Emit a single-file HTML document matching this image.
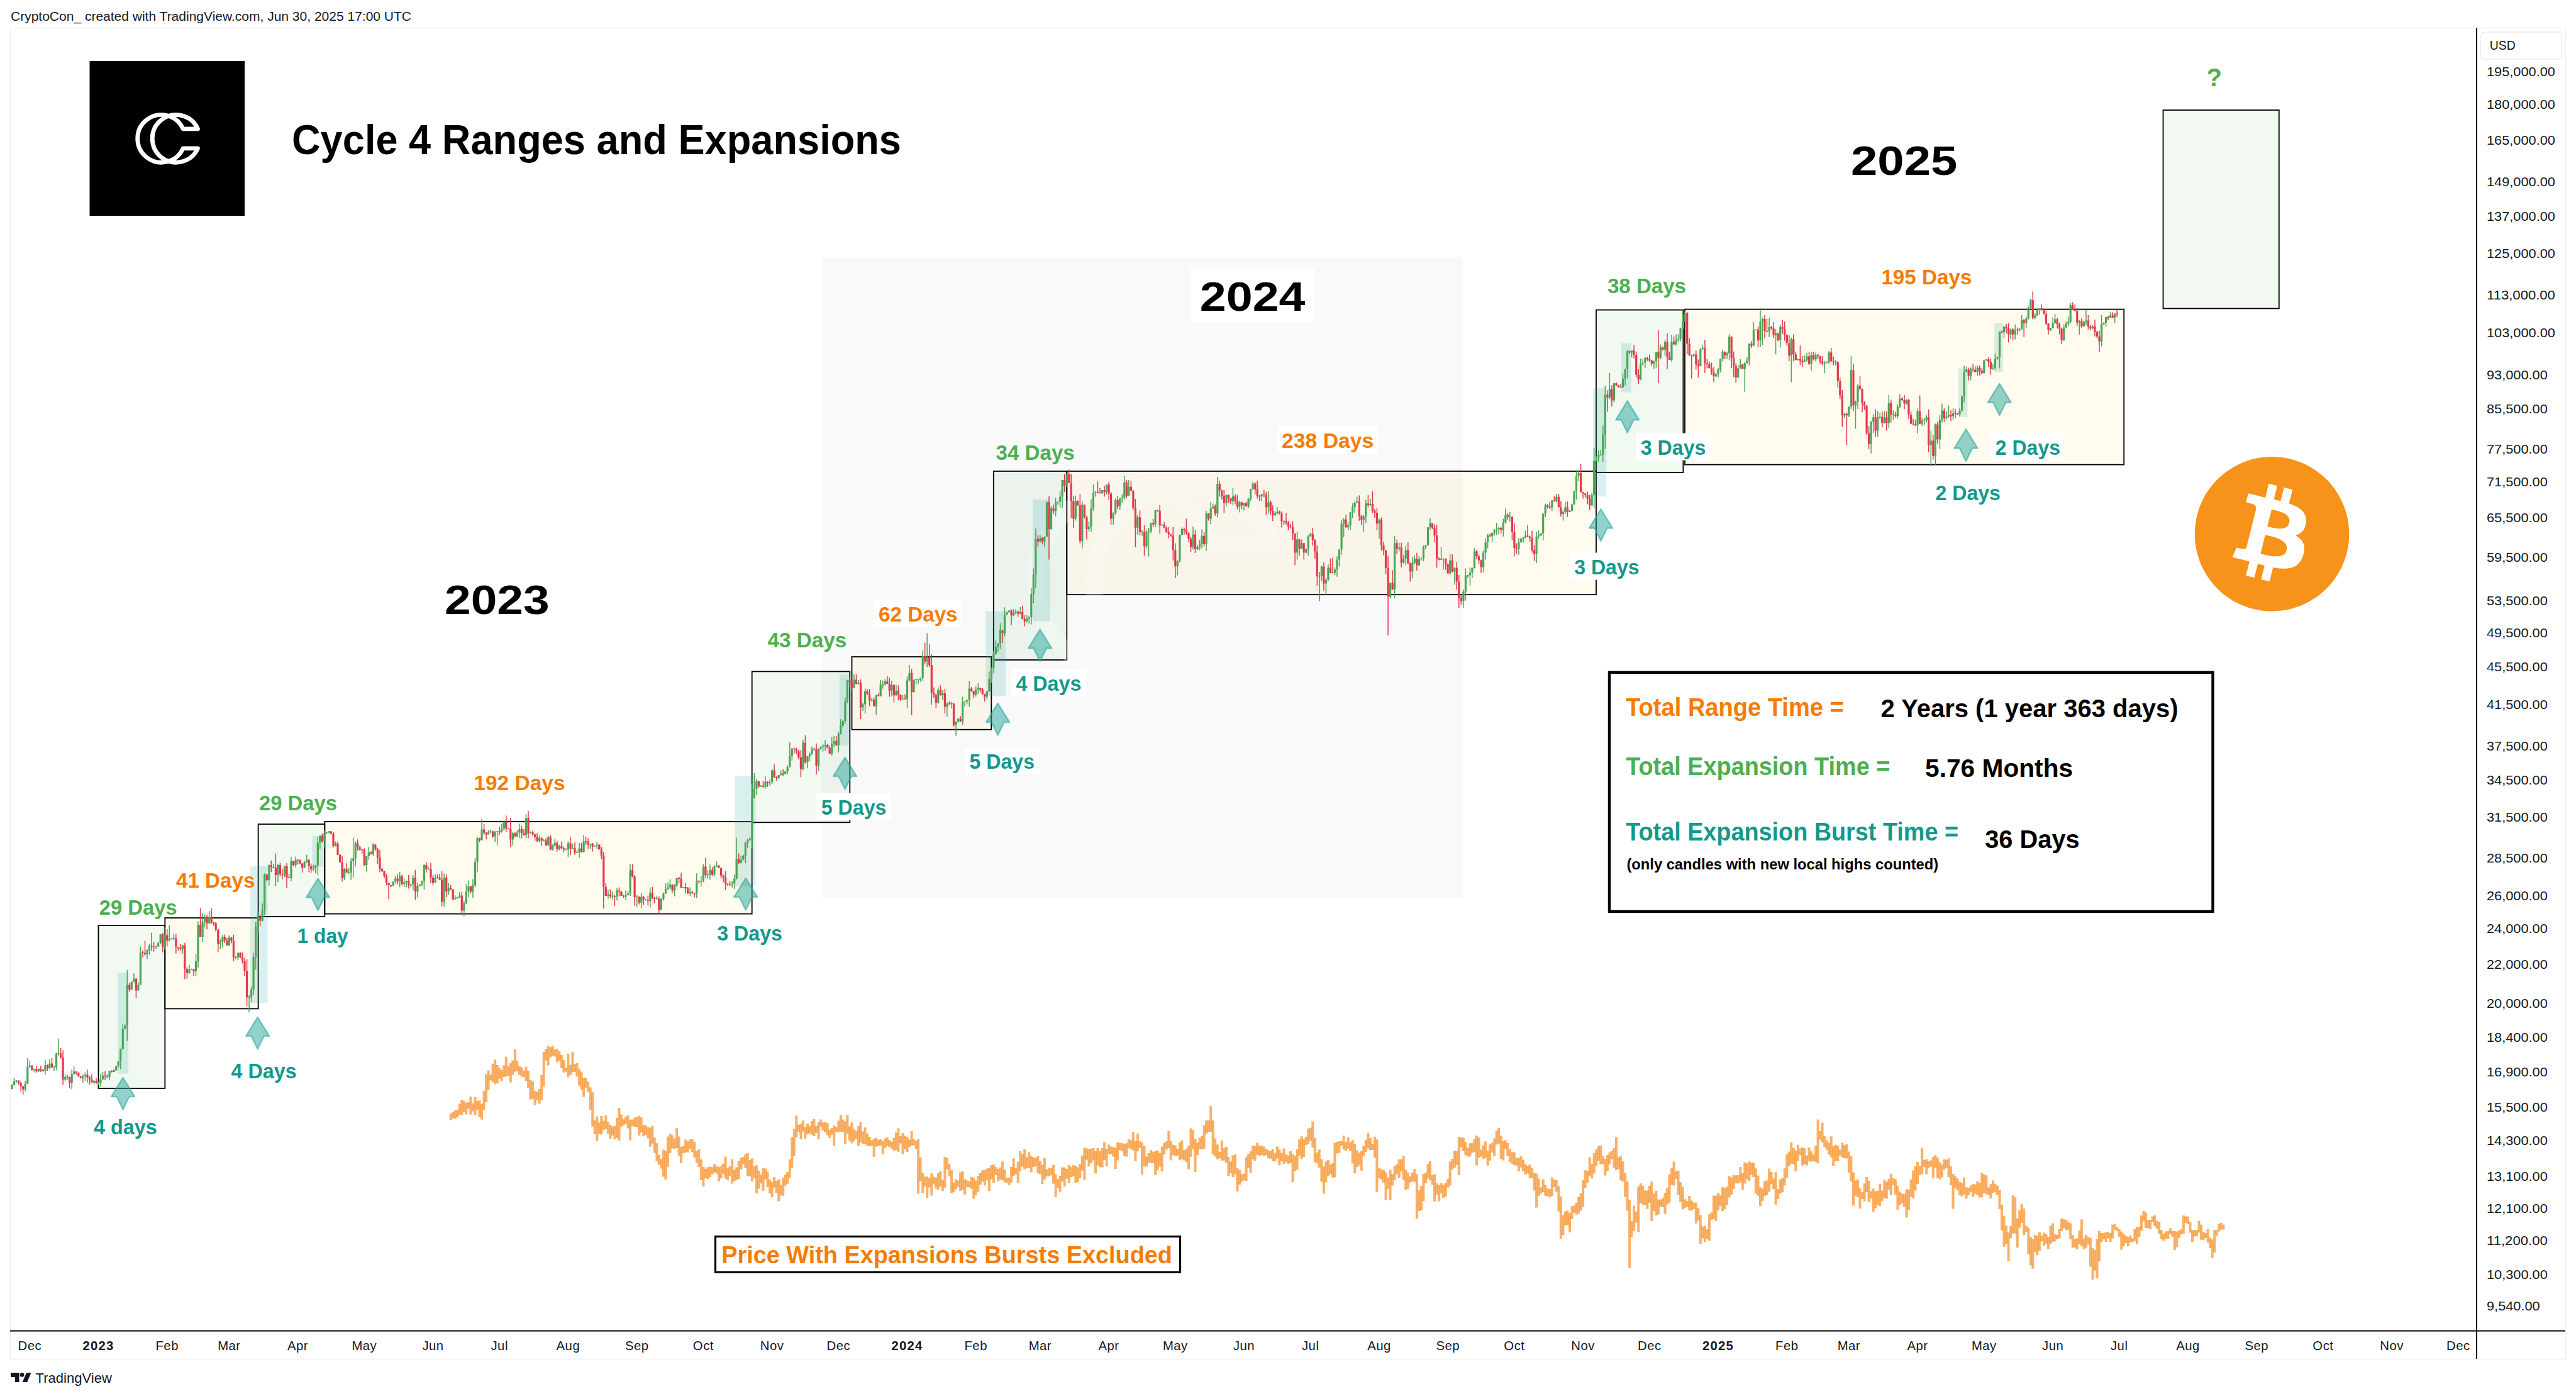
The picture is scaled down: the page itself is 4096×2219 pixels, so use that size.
<!DOCTYPE html>
<html><head><meta charset="utf-8"><title>Cycle 4 Ranges and Expansions</title>
<style>
html,body{margin:0;padding:0;background:#fff;}
body{width:4096px;height:2219px;overflow:hidden;font-family:"Liberation Sans",sans-serif;}
svg{display:block;position:absolute;left:0;top:0;}
</style></head><body>
<svg width="4096" height="2219" viewBox="0 0 4096 2219" shape-rendering="auto">
<rect x="0" y="0" width="4096" height="2219" fill="#fff"/>
<path d="M16.5 2160.5V44.5H4079.5V2160.5H16.5" fill="none" stroke="#efefef" stroke-width="1.5"/>
<rect x="1306" y="409" width="1020" height="1018" fill="#f9f9fa"/>
<g id="rects" stroke="#000" stroke-width="1.8">
<rect x="156.5" y="1471.0" width="105.8" height="259.0" fill="#4caf50" fill-opacity="0.078"/>
<rect x="262.3" y="1459.0" width="148.3" height="144.4" fill="#ffc107" fill-opacity="0.062"/>
<rect x="410.6" y="1310.0" width="105.7" height="147.0" fill="#4caf50" fill-opacity="0.078"/>
<rect x="516.3" y="1306.0" width="679.4" height="146.6" fill="#ffc107" fill-opacity="0.062"/>
<rect x="1195.7" y="1067.4" width="155.6" height="239.9" fill="#4caf50" fill-opacity="0.078"/>
<rect x="1354.5" y="1044.0" width="221.8" height="115.7" fill="#ffc107" fill-opacity="0.062"/>
<rect x="1579.8" y="749.0" width="116.5" height="300.0" fill="#4caf50" fill-opacity="0.078"/>
<rect x="1696.3" y="749.0" width="841.7" height="196.2" fill="#ffc107" fill-opacity="0.062"/>
<rect x="2538.0" y="492.6" width="138.4" height="258.4" fill="#4caf50" fill-opacity="0.078"/>
<rect x="2679.0" y="491.6" width="698.2" height="247.0" fill="#ffc107" fill-opacity="0.062"/>
<rect x="3439.5" y="175.0" width="184.3" height="315.4" fill="#4caf50" fill-opacity="0.078"/>
</g>
<path d="M1931.2 862.9A148.9 148.9 0 1 0 1931.2 985.1H2023.8A148.9 148.9 0 1 1 2023.8 862.9Z" fill="none" stroke="#fff" stroke-opacity="0.24" stroke-width="26.8" stroke-linejoin="round"/>
<g id="hl" fill="#26a69a" fill-opacity="0.17">
<rect x="187.0" y="1546.6" width="17.2" height="159.9"/>
<rect x="398.0" y="1377.0" width="27.6" height="217.4"/>
<rect x="496.5" y="1329.0" width="18.1" height="49.0"/>
<rect x="1168.6" y="1233.0" width="32.7" height="175.3"/>
<rect x="1334.8" y="1072.0" width="15.4" height="113.2"/>
<rect x="1567.3" y="971.6" width="31.8" height="134.5"/>
<rect x="1642.1" y="794.0" width="27.9" height="193.5"/>
<rect x="2533.3" y="617.3" width="21.1" height="172.0"/>
<rect x="2577.8" y="545.5" width="15.9" height="78.1"/>
<rect x="3113.9" y="585.5" width="14.6" height="77.4"/>
<rect x="3171.1" y="513.7" width="13.8" height="77.8"/>
</g>
<g id="candles" fill="none">
<path stroke="#4ba555" stroke-width="1.5" d="M19.1 1722.7V1731.5M22.6 1713.0V1725.1M26.1 1717.1V1721.5M40.2 1718.0V1734.2M43.8 1681.8V1723.2M47.3 1686.1V1697.4M54.3 1698.5V1704.5M61.4 1698.8V1703.9M71.9 1684.6V1708.6M79.0 1683.7V1699.7M86.0 1693.9V1702.6M89.6 1673.3V1701.3M93.1 1650.7V1678.1M103.7 1707.6V1718.8M107.2 1709.0V1716.4M114.2 1700.6V1731.6M117.7 1694.9V1708.7M131.8 1708.1V1721.1M135.4 1704.8V1718.0M149.5 1716.8V1723.8M156.5 1718.9V1724.9M160.0 1707.2V1726.7M163.5 1704.1V1716.0M174.1 1701.8V1717.3M181.2 1699.3V1704.2M184.7 1694.6V1702.1M188.2 1686.5V1697.0M191.7 1666.8V1699.3M195.3 1627.2V1668.4M198.8 1628.4V1636.3M202.3 1541.7V1654.4M209.3 1559.9V1573.5M212.9 1547.2V1561.3M219.9 1561.3V1575.1M223.4 1504.7V1565.8M234.0 1508.9V1524.4M237.5 1499.9V1517.6M248.1 1503.4V1508.8M251.6 1496.7V1504.7M255.2 1485.0V1500.9M262.2 1474.5V1509.4M269.2 1470.2V1496.4M272.8 1491.1V1493.6M276.3 1483.9V1494.8M290.4 1501.8V1515.8M301.0 1533.7V1547.7M311.5 1516.5V1551.2M315.0 1464.6V1538.0M322.1 1451.9V1497.1M325.6 1453.6V1474.2M332.7 1447.9V1469.0M350.3 1493.2V1508.1M353.8 1486.0V1506.5M364.4 1486.7V1504.0M378.5 1514.2V1526.0M396.1 1581.2V1609.3M399.6 1568.6V1592.3M403.1 1514.4V1582.0M406.7 1465.2V1541.2M410.2 1449.9V1483.6M417.2 1436.3V1464.5M420.7 1388.3V1455.0M427.8 1374.3V1407.8M441.9 1373.2V1402.3M452.5 1375.8V1393.9M463.0 1362.2V1400.6M470.1 1361.5V1378.8M484.2 1368.4V1379.7M487.7 1358.8V1371.6M498.3 1374.4V1384.1M501.8 1375.0V1387.9M505.3 1329.9V1390.8M508.8 1327.9V1349.5M515.9 1319.5V1347.6M519.4 1322.1V1325.0M522.9 1321.0V1324.3M533.5 1337.4V1345.5M547.6 1379.6V1399.1M554.6 1379.7V1389.4M558.2 1364.1V1398.6M561.7 1331.5V1395.1M565.2 1337.3V1377.6M582.8 1360.2V1385.6M586.3 1346.0V1366.4M593.4 1340.4V1361.1M625.1 1400.9V1408.2M628.6 1392.1V1404.8M635.7 1386.3V1410.0M642.7 1396.7V1409.9M646.2 1399.8V1410.4M653.3 1405.0V1410.5M656.8 1391.0V1415.5M663.9 1403.7V1426.6M667.4 1405.4V1408.6M670.9 1399.8V1408.8M674.4 1374.0V1414.2M681.5 1378.3V1382.0M692.0 1389.2V1403.5M706.1 1388.3V1441.5M713.2 1403.8V1422.2M723.8 1423.5V1429.4M727.3 1425.9V1428.6M730.8 1418.3V1427.7M737.8 1431.7V1456.6M741.4 1405.5V1437.0M744.9 1399.4V1426.6M751.9 1397.5V1427.0M755.5 1364.0V1410.2M759.0 1330.2V1386.5M766.0 1301.2V1336.3M776.6 1319.6V1326.6M780.1 1318.7V1324.4M787.2 1320.4V1338.4M790.7 1321.4V1343.6M797.7 1308.9V1323.8M801.3 1303.5V1320.2M815.4 1322.5V1344.2M822.4 1319.7V1330.6M825.9 1309.3V1331.8M836.5 1294.1V1332.4M843.5 1321.7V1324.6M857.6 1328.2V1338.9M864.7 1332.9V1337.3M871.7 1329.1V1344.4M878.8 1342.3V1352.2M882.3 1333.0V1346.3M889.3 1343.0V1351.6M899.9 1348.5V1351.7M903.4 1337.3V1362.4M910.5 1340.8V1349.7M917.5 1350.6V1355.7M921.1 1339.8V1363.2M928.1 1327.3V1355.1M938.7 1341.1V1349.2M945.7 1344.0V1346.6M949.2 1338.2V1349.9M966.9 1413.9V1428.7M973.9 1417.0V1429.8M981.0 1411.5V1431.6M995.0 1415.3V1431.1M998.6 1417.1V1423.6M1002.1 1373.2V1423.9M1012.7 1422.9V1441.2M1019.7 1419.4V1443.9M1033.8 1410.9V1442.7M1044.4 1423.7V1430.6M1051.4 1427.8V1446.2M1054.9 1418.6V1431.4M1058.5 1404.3V1421.1M1062.0 1402.6V1414.3M1065.5 1397.7V1413.2M1072.6 1405.0V1424.8M1076.1 1394.8V1410.2M1086.7 1409.9V1411.4M1097.2 1410.5V1424.0M1107.8 1388.2V1427.5M1114.8 1392.7V1409.1M1118.4 1373.7V1402.4M1125.4 1383.4V1396.8M1128.9 1374.2V1398.2M1136.0 1375.1V1393.1M1139.5 1369.3V1377.8M1164.2 1399.9V1410.7M1167.7 1389.5V1413.3M1171.2 1331.6V1397.9M1178.3 1359.9V1372.6M1181.8 1358.5V1368.0M1185.3 1338.3V1372.3M1188.8 1332.9V1347.7M1192.4 1330.2V1336.5M1195.9 1245.6V1348.1M1199.4 1228.8V1269.3M1202.9 1237.9V1263.7M1210.0 1248.1V1251.1M1217.0 1233.7V1253.7M1224.1 1238.9V1248.7M1227.6 1222.8V1246.1M1238.2 1232.1V1239.0M1241.7 1224.4V1233.1M1248.7 1225.8V1230.8M1252.2 1216.5V1230.4M1255.8 1179.4V1219.8M1259.3 1189.1V1209.1M1276.9 1175.7V1224.7M1284.0 1201.9V1221.2M1287.5 1196.3V1209.9M1291.0 1186.8V1199.7M1301.6 1189.4V1225.0M1305.1 1186.2V1191.7M1308.6 1182.7V1194.4M1312.1 1176.5V1193.6M1322.7 1171.6V1201.0M1326.2 1169.7V1187.4M1333.3 1162.9V1196.1M1336.8 1143.2V1167.7M1340.3 1144.8V1156.3M1343.9 1108.4V1150.4M1347.4 1080.4V1117.5M1357.9 1071.8V1093.7M1365.0 1081.0V1088.6M1372.0 1116.7V1129.9M1375.6 1094.5V1134.3M1386.1 1109.5V1114.7M1393.2 1104.3V1136.4M1400.2 1081.0V1107.1M1403.7 1081.7V1094.5M1407.3 1079.5V1089.7M1417.8 1081.9V1107.0M1424.9 1088.6V1106.2M1435.5 1104.9V1112.4M1442.5 1075.6V1125.9M1446.0 1056.9V1083.4M1453.1 1080.2V1101.3M1456.6 1079.6V1087.7M1460.1 1079.5V1086.8M1463.6 1077.1V1083.8M1467.2 1033.4V1081.9M1474.2 1006.4V1060.3M1491.8 1092.4V1118.5M1498.9 1097.0V1113.3M1505.9 1116.6V1139.6M1513.0 1115.4V1125.7M1520.0 1146.8V1169.7M1523.5 1141.9V1149.0M1530.6 1107.4V1152.3M1534.1 1114.5V1123.4M1537.6 1112.4V1119.7M1541.2 1082.7V1123.4M1551.7 1091.0V1107.3M1555.3 1085.7V1102.7M1569.3 1098.7V1112.1M1572.9 1067.4V1099.9M1576.4 1060.7V1085.8M1579.9 1034.3V1070.0M1583.4 1017.8V1040.8M1587.0 1022.0V1036.4M1590.5 990.7V1031.4M1597.5 965.3V1011.6M1601.1 972.1V977.5M1604.6 969.4V973.5M1611.6 968.1V979.7M1615.1 968.6V976.7M1622.2 964.9V976.5M1632.8 977.1V989.4M1636.3 979.8V991.4M1639.8 934.2V992.6M1643.3 903.5V958.9M1646.9 839.9V934.8M1653.9 850.7V862.6M1660.9 852.5V869.5M1664.5 796.6V853.2M1671.5 804.1V842.5M1678.6 791.1V820.6M1682.1 797.2V802.4M1685.6 780.3V806.7M1689.1 762.5V808.0M1696.2 752.8V774.3M1710.3 787.7V827.4M1720.8 797.1V871.8M1731.4 829.0V844.4M1734.9 793.4V845.4M1738.5 770.2V812.2M1742.0 780.0V789.6M1752.6 779.1V785.3M1759.6 770.2V785.7M1770.2 814.2V833.9M1773.7 792.6V817.6M1780.7 791.9V811.0M1784.3 785.4V799.6M1787.8 756.0V794.2M1794.8 763.0V788.5M1808.9 819.0V850.1M1816.0 842.5V851.7M1823.0 842.6V871.3M1826.5 839.0V884.8M1830.1 830.5V847.4M1837.1 810.5V838.0M1847.7 833.2V835.9M1872.3 890.7V914.4M1875.9 849.4V894.3M1879.4 838.3V850.7M1897.0 837.1V873.5M1904.1 866.3V874.2M1907.6 857.8V874.7M1911.1 841.2V872.0M1918.1 812.0V876.1M1925.2 797.8V832.9M1928.7 800.5V809.3M1935.8 758.0V822.2M1949.9 786.5V804.5M1960.4 776.1V803.5M1971.0 795.8V814.6M1978.0 799.2V811.3M1985.1 791.2V808.0M1988.6 777.0V796.7M1992.1 766.2V778.8M2006.2 785.1V796.1M2016.8 781.1V815.4M2027.4 812.4V819.8M2030.9 805.9V818.1M2062.6 844.8V889.7M2069.7 857.8V872.5M2076.7 871.7V879.2M2080.2 850.4V883.0M2083.7 846.7V853.1M2101.4 899.0V923.5M2108.4 918.8V945.6M2111.9 896.7V923.9M2122.5 902.1V914.0M2126.0 884.3V916.7M2129.5 873.3V900.6M2133.1 825.7V881.9M2136.6 823.3V854.3M2143.6 830.2V843.0M2147.2 814.0V841.9M2150.7 800.0V823.4M2154.2 797.1V815.1M2157.7 789.5V799.3M2168.3 818.8V845.3M2171.8 794.7V831.8M2178.9 793.2V804.4M2193.0 824.2V856.3M2210.6 926.1V951.3M2217.6 852.3V950.8M2224.7 862.7V876.6M2231.7 882.4V895.7M2235.2 867.5V898.4M2245.8 885.0V919.2M2249.3 883.0V896.8M2256.4 883.7V900.1M2259.9 886.6V890.7M2263.4 866.7V892.1M2267.0 866.3V873.2M2270.5 837.9V867.6M2274.0 822.9V842.7M2291.6 869.4V890.1M2295.1 888.0V905.5M2305.7 881.1V913.5M2312.8 902.2V929.5M2326.9 936.6V966.2M2330.4 903.5V954.4M2333.9 914.3V918.9M2337.4 901.9V930.5M2340.9 901.9V919.1M2344.5 870.9V903.4M2358.6 874.9V909.4M2362.1 855.8V889.4M2365.6 848.5V871.4M2372.7 846.4V861.2M2376.2 841.0V851.2M2379.7 831.3V850.3M2383.2 836.5V849.4M2390.3 824.8V852.8M2393.8 808.5V832.4M2400.8 814.1V829.1M2414.9 855.3V881.8M2418.5 854.4V862.4M2422.0 853.6V862.8M2425.5 843.4V855.8M2443.1 845.6V895.3M2446.6 843.2V856.3M2450.2 847.0V851.9M2453.7 815.1V858.7M2457.2 800.5V822.0M2467.8 795.1V812.6M2474.8 785.0V798.6M2485.4 810.1V827.4M2488.9 798.2V817.0M2496.0 810.8V814.0M2499.5 800.5V813.3M2503.0 780.1V802.2M2506.5 749.2V794.0M2510.1 749.1V765.0M2531.2 782.8V804.5M2534.7 711.7V807.7M2538.3 725.3V732.8M2541.8 715.6V734.5M2545.3 715.8V723.7M2548.8 676.5V734.2M2552.3 613.1V713.8M2559.4 592.8V633.9M2566.4 608.4V639.6M2580.5 593.9V616.9M2584.1 586.5V612.8M2587.6 556.1V601.2M2594.6 556.7V568.3M2608.7 569.8V604.5M2612.2 570.9V581.3M2615.8 567.9V585.5M2629.9 573.3V586.1M2633.4 559.3V584.7M2640.4 547.8V571.0M2647.5 540.4V566.1M2658.0 532.1V574.9M2665.1 531.5V549.6M2668.6 531.3V543.4M2672.1 520.7V542.6M2675.7 499.9V523.6M2679.2 495.0V511.0M2693.3 561.9V566.9M2703.8 553.3V582.4M2707.4 547.7V555.4M2728.5 593.1V599.2M2732.0 584.8V600.1M2735.6 570.2V592.3M2739.1 555.8V574.5M2746.1 559.5V570.6M2749.6 531.3V572.6M2763.7 580.3V600.5M2767.3 570.9V586.6M2774.3 575.7V623.4M2777.8 567.7V578.3M2781.4 546.0V581.0M2788.4 512.1V550.3M2791.9 523.7V524.7M2799.0 490.0V551.2M2802.5 504.6V548.2M2813.1 505.1V536.1M2823.6 523.3V563.2M2830.7 516.0V552.4M2848.3 536.8V607.4M2858.9 570.4V572.9M2869.4 565.0V575.8M2873.0 560.9V574.4M2880.0 559.3V589.0M2887.1 560.4V574.2M2901.2 573.7V593.3M2904.7 574.6V577.6M2908.2 558.0V578.5M2918.8 572.4V580.5M2932.9 656.6V663.8M2939.9 646.4V663.0M2943.4 566.3V650.0M2950.5 636.7V681.6M2954.0 610.6V650.2M2975.1 668.9V720.7M2978.7 658.1V688.6M2985.7 653.6V694.6M2989.2 656.4V666.3M2996.3 654.1V673.3M3003.3 627.4V680.5M3010.4 652.5V666.8M3017.4 642.6V665.3M3020.9 626.4V648.6M3031.5 634.6V643.4M3049.1 649.2V689.2M3056.2 664.3V677.0M3059.7 664.1V675.8M3063.2 659.9V670.9M3070.3 684.6V740.7M3077.3 673.3V738.7M3084.4 660.0V713.7M3087.9 641.5V671.8M3094.9 654.5V666.4M3098.5 644.5V664.0M3105.5 649.0V667.3M3116.1 649.1V662.1M3119.6 628.8V654.3M3123.1 581.6V639.7M3126.6 582.5V591.8M3133.7 583.9V604.3M3144.3 581.0V597.1M3154.8 571.7V594.2M3158.4 570.7V573.5M3168.9 578.4V587.8M3172.4 562.3V587.7M3176.0 567.3V571.7M3179.5 526.7V585.5M3186.5 518.8V537.5M3197.1 522.3V538.8M3204.2 515.7V539.6M3211.2 521.7V527.0M3214.7 500.8V524.6M3221.8 503.0V522.1M3225.3 487.3V507.8M3228.8 474.7V490.4M3235.9 497.8V507.2M3239.4 489.4V501.7M3242.9 489.7V500.0M3260.5 521.0V526.1M3264.1 504.4V522.2M3267.6 499.0V514.5M3281.7 515.6V542.2M3285.2 511.3V521.4M3288.7 503.6V518.5M3292.2 481.5V513.8M3306.3 508.5V531.7M3313.4 509.4V519.3M3316.9 493.1V517.0M3327.5 517.1V523.3M3341.6 501.0V550.6M3345.1 512.3V516.6M3348.6 504.0V519.2M3355.7 495.6V505.8M3362.7 498.0V513.4"/>
<path stroke="#e4374b" stroke-width="1.5" d="M29.7 1717.2V1724.4M33.2 1718.9V1735.3M36.7 1726.1V1739.7M50.8 1693.0V1701.4M57.8 1694.6V1705.0M64.9 1693.9V1704.0M68.4 1698.9V1703.5M75.5 1692.0V1702.0M82.5 1681.9V1697.3M96.6 1665.8V1682.7M100.1 1669.5V1724.4M110.7 1711.4V1729.7M121.3 1703.0V1708.3M124.8 1704.5V1711.5M128.3 1710.3V1714.5M138.9 1700.2V1720.6M142.4 1710.3V1724.2M145.9 1707.8V1721.5M153.0 1713.8V1722.8M167.1 1702.5V1716.8M170.6 1708.1V1713.9M177.6 1701.3V1704.7M205.8 1562.1V1576.4M216.4 1555.4V1586.1M227.0 1510.8V1521.7M230.5 1495.2V1518.7M241.1 1482.7V1511.7M244.6 1496.9V1512.8M258.7 1483.0V1513.8M265.7 1477.1V1504.6M279.8 1484.6V1515.4M283.3 1504.9V1511.1M286.9 1500.2V1511.0M293.9 1498.8V1556.2M297.4 1537.7V1555.4M304.5 1539.8V1541.4M308.0 1539.9V1552.1M318.6 1443.8V1489.1M329.1 1454.4V1477.3M336.2 1443.8V1468.3M339.7 1465.2V1471.4M343.2 1465.8V1480.8M346.8 1476.6V1513.1M357.3 1485.4V1498.9M360.9 1491.0V1502.8M367.9 1489.2V1499.4M371.4 1485.8V1528.1M374.9 1519.9V1524.8M382.0 1513.3V1523.2M385.5 1513.9V1531.5M389.0 1522.5V1552.1M392.6 1524.9V1599.3M413.7 1453.5V1472.2M424.3 1389.6V1400.6M431.3 1367.7V1386.2M434.8 1373.5V1379.9M438.4 1356.7V1408.2M445.4 1371.7V1393.2M448.9 1381.5V1397.9M456.0 1371.9V1411.2M459.5 1389.5V1395.9M466.6 1368.7V1376.9M473.6 1366.5V1374.1M477.1 1366.4V1374.0M480.6 1372.3V1386.7M491.2 1365.9V1386.6M494.7 1372.7V1387.5M512.4 1325.1V1339.5M526.4 1321.3V1326.2M530.0 1322.4V1347.2M537.0 1337.7V1358.9M540.5 1357.0V1370.9M544.1 1360.5V1401.3M551.1 1372.2V1387.6M568.7 1334.3V1351.8M572.2 1344.1V1352.6M575.8 1350.2V1356.7M579.3 1348.6V1376.3M589.9 1353.2V1358.4M596.9 1341.7V1352.7M600.4 1347.8V1373.2M604.0 1351.0V1386.4M607.5 1379.2V1386.3M611.0 1384.2V1395.4M614.5 1389.0V1407.2M618.1 1403.1V1429.4M621.6 1406.7V1410.3M632.1 1389.7V1406.1M639.2 1390.1V1407.5M649.8 1391.0V1412.4M660.3 1382.8V1430.1M677.9 1370.6V1387.1M685.0 1371.2V1403.7M688.5 1391.3V1407.3M695.6 1389.4V1396.5M699.1 1389.3V1398.9M702.6 1385.1V1440.5M709.7 1390.1V1425.9M716.7 1406.4V1414.5M720.2 1413.1V1431.3M734.3 1417.8V1454.6M748.4 1408.6V1420.6M762.5 1331.8V1338.8M769.6 1309.8V1327.3M773.1 1322.5V1334.3M783.6 1320.6V1331.7M794.2 1314.1V1327.4M804.8 1296.3V1322.6M808.3 1316.0V1317.8M811.8 1300.2V1346.0M818.9 1323.0V1331.1M829.5 1312.7V1332.7M833.0 1318.0V1327.7M840.0 1289.2V1332.5M847.1 1320.2V1328.6M850.6 1325.0V1336.2M854.1 1324.3V1338.4M861.2 1331.1V1344.5M868.2 1332.6V1344.6M875.3 1327.4V1351.3M885.8 1336.6V1353.9M892.9 1337.4V1349.2M896.4 1345.4V1354.9M907.0 1330.7V1359.2M914.0 1339.2V1359.1M924.6 1339.9V1355.4M931.6 1330.1V1343.2M935.1 1332.6V1349.6M942.2 1340.1V1353.5M952.8 1342.1V1350.6M956.3 1346.0V1365.2M959.8 1354.6V1444.1M963.3 1403.9V1424.1M970.4 1413.8V1427.6M977.4 1422.6V1440.5M984.5 1410.5V1424.8M988.0 1415.9V1424.2M991.5 1422.2V1427.3M1005.6 1373.5V1394.7M1009.1 1390.9V1439.2M1016.2 1424.4V1437.4M1023.2 1424.3V1438.2M1026.8 1429.2V1431.3M1030.3 1423.7V1439.6M1037.3 1409.8V1429.0M1040.8 1426.0V1436.1M1047.9 1425.1V1452.7M1069.0 1405.7V1419.2M1079.6 1393.8V1403.7M1083.1 1387.3V1411.4M1090.2 1403.8V1419.8M1093.7 1409.9V1421.4M1100.7 1416.4V1420.8M1104.3 1419.4V1426.3M1111.3 1399.2V1404.5M1121.9 1363.8V1395.3M1132.5 1378.3V1392.4M1143.0 1374.7V1379.9M1146.5 1379.4V1396.6M1150.1 1390.0V1402.3M1153.6 1384.7V1414.4M1157.1 1404.2V1408.2M1160.6 1400.0V1408.3M1174.7 1356.5V1373.3M1206.4 1241.5V1252.1M1213.5 1241.1V1252.6M1220.5 1241.5V1251.1M1231.1 1214.9V1236.6M1234.6 1234.0V1241.1M1245.2 1222.7V1233.7M1262.8 1188.6V1197.7M1266.3 1188.7V1198.5M1269.9 1192.0V1207.2M1273.4 1192.3V1235.3M1280.4 1168.9V1213.7M1294.5 1190.1V1193.6M1298.0 1181.8V1231.0M1315.7 1182.8V1189.5M1319.2 1185.2V1198.2M1329.8 1170.0V1185.7M1350.9 1075.6V1092.4M1354.4 1084.3V1098.0M1361.5 1071.7V1087.6M1368.5 1079.9V1142.9M1379.1 1095.5V1104.7M1382.6 1095.1V1122.6M1389.7 1108.5V1123.1M1396.7 1102.1V1106.7M1410.8 1074.7V1087.6M1414.3 1077.0V1107.6M1421.4 1087.7V1116.5M1428.4 1089.6V1113.0M1431.9 1103.8V1114.0M1439.0 1103.8V1111.9M1449.6 1063.6V1136.4M1470.7 1021.4V1055.9M1477.7 1023.6V1059.9M1481.3 1039.6V1120.3M1484.8 1092.8V1109.0M1488.3 1102.2V1125.8M1495.4 1089.2V1105.5M1502.4 1095.2V1134.3M1509.4 1114.5V1120.9M1516.5 1117.1V1154.9M1527.1 1138.1V1147.7M1544.7 1092.0V1099.6M1548.2 1098.1V1109.4M1558.8 1093.4V1100.2M1562.3 1094.0V1104.5M1565.8 1102.8V1115.0M1594.0 1001.8V1021.9M1608.1 968.4V993.5M1618.7 970.8V980.2M1625.7 962.7V984.2M1629.2 977.7V995.5M1650.4 850.6V869.0M1657.4 853.8V865.3M1668.0 789.1V889.5M1675.0 802.3V817.2M1692.7 753.5V782.2M1699.7 746.5V768.0M1703.2 753.4V823.4M1706.8 787.7V838.9M1713.8 795.6V803.8M1717.3 785.3V863.5M1724.4 801.9V824.3M1727.9 819.8V857.6M1745.5 765.5V784.3M1749.0 775.8V784.6M1756.1 772.5V789.5M1763.1 765.9V794.4M1766.6 782.3V834.0M1777.2 788.2V808.9M1791.3 762.8V791.6M1798.4 764.8V780.9M1801.9 778.9V810.5M1805.4 793.0V869.4M1812.5 811.5V850.6M1819.5 835.1V883.6M1833.6 825.0V837.3M1840.6 810.6V813.3M1844.2 802.4V848.3M1851.2 830.3V839.6M1854.7 836.7V846.9M1858.3 837.8V855.5M1861.8 848.8V853.3M1865.3 838.1V890.7M1868.8 863.5V919.1M1882.9 838.8V849.7M1886.4 824.5V850.1M1890.0 846.3V861.6M1893.5 853.3V877.8M1900.5 842.7V878.9M1914.6 845.4V868.4M1921.7 815.7V827.5M1932.2 801.8V819.8M1939.3 764.3V789.5M1942.8 778.5V793.7M1946.3 778.9V815.1M1953.4 785.9V799.5M1956.9 791.4V801.0M1964.0 785.3V801.5M1967.5 786.6V809.8M1974.5 797.4V809.0M1981.6 797.6V805.2M1995.7 767.1V785.7M1999.2 764.1V792.4M2002.7 787.1V796.1M2009.8 778.6V790.6M2013.3 781.7V818.2M2020.3 795.4V818.6M2023.8 803.3V828.2M2034.4 811.5V817.8M2037.9 813.1V838.3M2041.5 828.2V834.0M2045.0 815.2V833.8M2048.5 828.0V842.5M2052.0 832.6V840.1M2055.6 828.5V858.0M2059.1 847.8V898.4M2066.1 856.4V883.3M2073.2 863.3V889.4M2087.3 839.1V867.2M2090.8 857.1V888.1M2094.3 866.9V930.8M2097.8 908.9V955.6M2104.9 894.2V938.7M2115.5 887.4V911.3M2119.0 886.4V911.2M2140.1 818.2V838.8M2161.3 787.5V827.7M2164.8 818.1V834.9M2175.4 787.1V806.6M2182.4 781.1V815.3M2185.9 808.9V823.0M2189.4 808.0V842.9M2196.5 822.6V875.4M2200.0 860.9V882.7M2203.5 874.0V912.5M2207.1 883.6V1009.8M2214.1 906.5V937.8M2221.2 857.4V881.0M2228.2 862.8V902.1M2238.8 862.3V896.2M2242.3 894.2V924.5M2252.9 878.7V907.3M2277.5 831.5V841.3M2281.0 833.3V861.7M2284.6 834.7V902.5M2288.1 886.1V890.5M2298.7 887.5V905.6M2302.2 895.4V911.6M2309.2 881.3V909.9M2316.3 893.1V937.3M2319.8 913.9V966.6M2323.3 945.7V961.3M2348.0 873.9V888.9M2351.5 881.3V896.2M2355.0 889.5V910.8M2369.1 847.6V854.1M2386.7 836.9V848.0M2397.3 815.7V826.1M2404.4 821.0V858.7M2407.9 832.0V884.6M2411.4 863.5V880.0M2429.0 834.9V853.9M2432.6 851.5V861.3M2436.1 844.0V878.3M2439.6 866.2V892.0M2460.7 801.0V808.6M2464.3 797.8V808.9M2471.3 789.1V797.2M2478.4 784.9V806.5M2481.9 796.4V820.9M2492.4 797.3V821.6M2513.6 737.3V782.8M2517.1 781.7V792.4M2520.6 783.3V790.5M2524.2 781.5V801.5M2527.7 786.4V810.8M2555.9 620.5V654.4M2562.9 612.2V646.2M2570.0 607.9V613.5M2573.5 611.6V616.0M2577.0 610.5V615.6M2591.1 557.5V563.0M2598.1 548.2V569.4M2601.7 558.8V599.5M2605.2 586.7V610.8M2619.3 567.3V573.5M2622.8 563.5V574.7M2626.3 572.0V581.3M2636.9 525.1V609.3M2643.9 550.8V556.9M2651.0 529.9V586.8M2654.5 558.9V572.3M2661.6 534.9V547.5M2682.7 495.8V563.0M2686.2 537.6V565.7M2689.8 563.8V601.8M2696.8 557.1V587.3M2700.3 571.6V600.3M2710.9 540.3V592.8M2714.4 570.5V585.3M2717.9 574.5V585.3M2721.5 576.3V595.7M2725.0 583.6V607.4M2742.6 558.6V571.0M2753.2 534.6V585.1M2756.7 558.8V599.3M2760.2 577.3V608.4M2770.8 578.5V586.9M2784.9 542.2V552.9M2795.5 519.3V552.2M2806.0 500.7V538.1M2809.5 507.1V527.9M2816.6 517.9V524.2M2820.1 511.8V537.5M2827.2 528.7V542.5M2834.2 509.1V530.7M2837.7 511.1V541.6M2841.3 531.8V549.7M2844.8 532.9V574.3M2851.8 531.3V574.3M2855.3 559.0V572.7M2862.4 549.2V580.5M2865.9 566.0V583.3M2876.5 559.4V580.2M2883.5 559.1V572.8M2890.6 562.6V571.0M2894.1 565.6V579.1M2897.6 566.3V581.0M2911.7 553.2V576.0M2915.2 566.7V580.3M2922.3 574.0V616.0M2925.8 600.6V634.5M2929.3 619.9V678.6M2936.4 655.6V707.6M2947.0 578.0V653.0M2957.5 598.3V620.7M2961.0 617.4V655.5M2964.6 637.6V651.8M2968.1 644.0V691.3M2971.6 677.1V713.7M2982.2 650.6V694.6M2992.8 653.9V679.6M2999.8 654.1V684.6M3006.8 635.6V671.5M3013.9 654.8V663.5M3024.5 631.2V637.7M3028.0 628.1V650.1M3035.0 634.4V666.2M3038.6 654.0V674.1M3042.1 666.1V676.3M3045.6 667.0V677.3M3052.7 628.4V673.9M3066.7 650.8V718.7M3073.8 691.6V730.5M3080.8 670.5V705.0M3091.4 649.0V670.4M3102.0 652.2V669.2M3109.0 650.1V664.6M3112.5 656.7V660.1M3130.2 584.4V605.0M3137.2 578.6V591.4M3140.7 582.3V591.9M3147.8 580.8V597.1M3151.3 584.7V595.5M3161.9 567.6V583.6M3165.4 569.9V595.6M3183.0 525.2V530.1M3190.1 515.1V529.7M3193.6 513.6V544.3M3200.6 521.8V540.7M3207.7 520.7V532.0M3218.2 507.0V535.7M3232.3 463.2V507.8M3246.4 483.6V493.4M3250.0 490.5V499.6M3253.5 493.9V517.1M3257.0 513.4V531.6M3271.1 505.0V522.0M3274.6 512.7V531.4M3278.1 520.8V546.7M3295.8 480.4V492.8M3299.3 483.7V494.9M3302.8 489.3V518.3M3309.9 506.1V520.8M3320.4 501.0V523.8M3323.9 517.0V525.3M3331.0 508.1V534.8M3334.5 526.0V537.6M3338.0 525.7V559.3M3352.1 501.9V509.0M3359.2 496.6V505.7M3366.2 493.0V504.3"/>
<path stroke="#4ba555" stroke-width="3.2" d="M19.1 1724.7V1730.7M22.6 1718.4V1724.7M26.1 1717.3V1718.5M40.2 1722.8V1731.4M43.8 1695.8V1722.8M47.3 1693.8V1695.8M54.3 1699.4V1700.7M61.4 1699.1V1702.8M71.9 1693.3V1702.0M79.0 1690.6V1697.9M86.0 1695.8V1697.0M89.6 1674.5V1696.2M93.1 1673.9V1675.1M103.7 1711.8V1715.9M107.2 1711.2V1712.4M114.2 1707.1V1720.9M117.7 1703.1V1707.1M131.8 1710.4V1713.2M135.4 1708.3V1710.4M149.5 1718.0V1720.7M156.5 1720.5V1721.7M160.0 1715.7V1720.8M163.5 1709.8V1715.7M174.1 1702.4V1711.6M181.2 1701.2V1703.9M184.7 1694.6V1701.2M188.2 1687.1V1694.6M191.7 1667.0V1687.1M195.3 1635.6V1667.0M198.8 1630.6V1635.6M202.3 1565.4V1630.6M209.3 1560.4V1572.9M212.9 1555.5V1560.4M219.9 1565.4V1574.2M223.4 1514.0V1565.4M234.0 1509.9V1516.7M237.5 1503.8V1509.9M248.1 1504.5V1505.7M251.6 1498.9V1504.5M255.2 1485.2V1498.9M262.2 1486.4V1505.3M269.2 1492.6V1495.2M272.8 1491.7V1492.9M276.3 1491.0V1492.2M290.4 1502.8V1508.1M301.0 1540.4V1546.7M311.5 1527.8V1544.1M315.0 1470.2V1527.8M322.1 1465.1V1489.0M325.6 1457.6V1465.1M332.7 1457.6V1467.6M350.3 1497.2V1500.2M353.8 1489.0V1497.2M364.4 1490.2V1502.7M378.5 1514.8V1521.7M396.1 1584.7V1585.9M399.6 1573.0V1585.2M403.1 1521.6V1573.0M406.7 1472.7V1521.6M410.2 1457.6V1472.7M417.2 1447.5V1463.6M420.7 1390.0V1447.5M427.8 1374.9V1399.1M441.9 1374.9V1391.0M452.5 1376.9V1390.4M463.0 1368.8V1395.8M470.1 1366.8V1374.9M484.2 1370.1V1378.9M487.7 1366.8V1370.1M498.3 1379.7V1381.6M501.8 1375.3V1379.7M505.3 1339.5V1375.3M508.8 1328.4V1339.5M515.9 1324.4V1337.2M519.4 1323.3V1324.5M522.9 1321.5V1323.5M533.5 1340.7V1344.6M547.6 1380.9V1395.1M554.6 1386.3V1387.5M558.2 1368.8V1386.9M561.7 1364.4V1368.8M565.2 1340.6V1364.4M582.8 1360.7V1374.9M586.3 1354.7V1360.7M593.4 1342.6V1357.2M625.1 1401.1V1408.1M628.6 1396.4V1401.1M635.7 1393.0V1400.9M642.7 1402.6V1405.2M646.2 1400.0V1402.6M653.3 1405.7V1407.2M656.8 1395.1V1405.7M663.9 1408.5V1417.3M667.4 1406.5V1408.5M670.9 1400.5V1406.5M674.4 1374.9V1400.5M681.5 1381.0V1382.2M692.0 1395.1V1403.1M706.1 1395.1V1433.4M713.2 1411.2V1417.3M723.8 1427.3V1429.4M727.3 1426.1V1427.3M730.8 1423.5V1426.2M737.8 1435.4V1447.5M741.4 1417.3V1435.4M744.9 1408.7V1417.3M751.9 1407.2V1417.3M755.5 1369.8V1407.2M759.0 1332.5V1369.8M766.0 1318.4V1335.3M776.6 1322.8V1326.5M780.1 1321.4V1322.8M787.2 1322.4V1329.5M790.7 1321.3V1322.5M797.7 1317.2V1322.1M801.3 1306.2V1317.2M815.4 1324.4V1334.5M822.4 1323.4V1329.5M825.9 1317.8V1323.4M836.5 1300.2V1327.5M843.5 1323.2V1324.4M857.6 1332.2V1336.5M864.7 1335.5V1336.7M871.7 1330.5V1343.8M878.8 1343.8V1350.6M882.3 1339.7V1343.8M889.3 1345.3V1349.6M899.9 1349.5V1350.7M903.4 1340.2V1349.8M910.5 1348.3V1349.6M917.5 1354.5V1355.7M921.1 1348.5V1354.5M928.1 1337.3V1354.0M938.7 1341.3V1342.5M945.7 1344.4V1345.6M949.2 1342.7V1344.6M966.9 1421.7V1424.0M973.9 1423.8V1425.0M981.0 1415.4V1425.2M995.0 1422.6V1425.0M998.6 1420.3V1422.6M1002.1 1383.2V1420.3M1012.7 1425.4V1426.6M1019.7 1425.4V1434.5M1033.8 1419.0V1432.2M1044.4 1427.8V1429.0M1051.4 1429.0V1446.2M1054.9 1420.4V1429.0M1058.5 1413.3V1420.4M1062.0 1410.5V1413.3M1065.5 1406.0V1410.5M1072.6 1407.5V1415.6M1076.1 1396.1V1407.5M1086.7 1410.0V1411.2M1097.2 1418.0V1419.7M1107.8 1400.4V1420.2M1114.8 1400.2V1401.6M1118.4 1377.4V1400.2M1125.4 1390.1V1391.3M1128.9 1383.2V1390.4M1136.0 1377.4V1390.3M1139.5 1376.0V1377.4M1164.2 1404.2V1405.8M1167.7 1396.8V1404.2M1171.2 1365.3V1396.8M1178.3 1366.6V1371.5M1181.8 1359.9V1366.6M1185.3 1339.5V1359.9M1188.8 1335.3V1339.5M1192.4 1333.4V1335.3M1195.9 1268.6V1333.4M1199.4 1253.6V1268.6M1202.9 1241.7V1253.6M1210.0 1248.7V1250.2M1217.0 1242.8V1250.5M1224.1 1242.9V1244.4M1227.6 1224.5V1242.9M1238.2 1232.1V1237.0M1241.7 1229.6V1232.1M1248.7 1226.2V1230.3M1252.2 1219.2V1226.2M1255.8 1202.0V1219.2M1259.3 1190.1V1202.0M1276.9 1180.5V1222.4M1284.0 1202.0V1211.6M1287.5 1198.8V1202.0M1291.0 1190.1V1198.8M1301.6 1190.1V1217.0M1305.1 1187.0V1190.1M1308.6 1185.8V1187.0M1312.1 1183.9V1185.9M1322.7 1182.6V1197.9M1326.2 1178.0V1182.6M1333.3 1166.5V1184.4M1336.8 1153.6V1166.5M1340.3 1146.1V1153.6M1343.9 1114.9V1146.1M1347.4 1081.6V1114.9M1357.9 1080.5V1093.4M1365.0 1085.4V1087.0M1372.0 1119.4V1124.6M1375.6 1098.8V1119.4M1386.1 1112.2V1113.8M1393.2 1105.2V1122.4M1400.2 1088.0V1106.5M1403.7 1087.1V1088.3M1407.3 1082.9V1087.4M1417.8 1089.1V1097.7M1424.9 1097.7V1105.2M1435.5 1110.7V1111.9M1442.5 1081.6V1111.2M1446.0 1069.8V1081.6M1453.1 1080.5V1099.9M1456.6 1079.8V1081.0M1460.1 1079.7V1080.9M1463.6 1077.7V1080.3M1467.2 1042.9V1077.7M1474.2 1045.0V1051.5M1491.8 1096.6V1117.1M1498.9 1101.8V1105.2M1505.9 1118.5V1123.5M1513.0 1117.9V1119.1M1520.0 1146.8V1152.5M1523.5 1142.4V1146.8M1530.6 1116.0V1146.6M1534.1 1114.9V1116.1M1537.6 1112.8V1115.1M1541.2 1094.5V1112.8M1551.7 1096.6V1104.2M1555.3 1093.6V1096.6M1569.3 1098.8V1107.6M1572.9 1079.4V1098.8M1576.4 1062.2V1079.4M1579.9 1039.7V1062.2M1583.4 1027.8V1039.7M1587.0 1022.3V1027.8M1590.5 1001.8V1022.3M1597.5 977.0V1006.2M1601.1 973.3V977.0M1604.6 970.6V973.3M1611.6 974.1V978.2M1615.1 972.3V974.1M1622.2 972.7V975.4M1632.8 983.6V987.5M1636.3 981.0V983.6M1639.8 943.9V981.0M1643.3 913.2V943.9M1646.9 856.4V913.2M1653.9 855.0V860.8M1660.9 852.9V860.4M1664.5 798.5V852.9M1671.5 808.0V841.1M1678.6 798.5V812.3M1682.1 797.4V798.6M1685.6 789.5V797.5M1689.1 763.1V789.5M1696.2 753.6V772.6M1710.3 796.2V824.5M1720.8 802.1V860.0M1731.4 837.2V841.1M1734.9 808.0V837.2M1738.5 783.2V808.0M1742.0 782.2V783.4M1752.6 779.1V784.1M1759.6 770.2V781.7M1770.2 815.8V824.5M1773.7 795.0V815.8M1780.7 792.6V804.9M1784.3 790.7V792.6M1787.8 766.6V790.7M1794.8 773.7V787.9M1808.9 822.2V838.7M1816.0 845.1V846.3M1823.0 845.8V868.3M1826.5 843.9V845.8M1830.1 831.6V843.9M1837.1 811.5V833.4M1847.7 833.9V835.2M1872.3 891.9V900.2M1875.9 850.5V891.9M1879.4 841.1V850.5M1897.0 849.4V869.4M1904.1 868.9V873.0M1907.6 865.0V868.9M1911.1 851.7V865.0M1918.1 816.3V864.7M1925.2 808.0V824.5M1928.7 805.1V808.0M1935.8 769.0V816.3M1949.9 786.8V799.7M1960.4 789.1V796.7M1971.0 798.5V805.6M1978.0 799.8V803.3M1985.1 793.1V804.9M1988.6 777.1V793.1M1992.1 768.6V777.1M2006.2 785.7V789.1M2016.8 798.2V806.2M2027.4 816.1V819.2M2030.9 813.6V816.1M2062.6 857.3V878.4M2069.7 863.3V872.4M2076.7 872.3V878.4M2080.2 852.3V872.3M2083.7 848.7V852.3M2101.4 900.4V915.8M2108.4 921.7V927.5M2111.9 902.5V921.7M2122.5 905.5V910.6M2126.0 889.4V905.5M2129.5 873.4V889.4M2133.1 832.3V873.4M2136.6 825.7V832.3M2143.6 835.0V838.3M2147.2 814.2V835.0M2150.7 806.2V814.2M2154.2 799.2V806.2M2157.7 797.2V799.2M2168.3 821.0V826.2M2171.8 800.2V821.0M2178.9 800.9V802.9M2193.0 826.2V832.3M2210.6 926.5V948.6M2217.6 863.3V936.6M2224.7 870.3V872.4M2231.7 888.3V894.4M2235.2 874.4V888.3M2245.8 894.4V908.5M2249.3 888.4V894.4M2256.4 888.4V898.4M2259.9 887.7V888.9M2263.4 869.4V888.1M2267.0 866.6V869.4M2270.5 838.3V866.6M2274.0 831.6V838.3M2291.6 888.3V890.0M2295.1 887.6V888.8M2305.7 890.4V911.5M2312.8 902.5V908.5M2326.9 940.6V955.3M2330.4 914.5V940.6M2333.9 913.8V915.0M2337.4 910.1V914.4M2340.9 902.9V910.1M2344.5 876.4V902.9M2358.6 878.4V901.5M2362.1 862.3V878.4M2365.6 851.3V862.3M2372.7 846.8V852.6M2376.2 842.9V846.8M2379.7 841.6V842.9M2383.2 839.1V841.6M2390.3 830.4V842.6M2393.8 818.3V830.4M2400.8 821.0V822.2M2414.9 862.0V872.1M2418.5 856.5V862.0M2422.0 854.6V856.5M2425.5 851.4V854.6M2443.1 852.9V881.0M2446.6 850.9V852.9M2450.2 848.0V850.9M2453.7 816.8V848.0M2457.2 803.3V816.8M2467.8 795.8V806.8M2474.8 789.8V796.4M2485.4 814.0V817.1M2488.9 806.3V814.0M2496.0 812.1V813.8M2499.5 801.8V812.1M2503.0 780.8V801.8M2506.5 756.7V780.8M2510.1 752.1V756.7M2531.2 786.8V803.3M2534.7 732.6V786.8M2538.3 726.6V732.6M2541.8 723.5V726.6M2545.3 722.7V723.9M2548.8 690.5V723.0M2552.3 627.4V690.5M2559.4 618.3V631.7M2566.4 609.3V636.4M2580.5 601.8V615.5M2584.1 586.8V601.8M2587.6 558.2V586.8M2594.6 557.2V560.3M2608.7 577.7V603.3M2612.2 576.4V577.7M2615.8 568.7V576.4M2629.9 573.9V578.0M2633.4 559.7V573.9M2640.4 552.2V568.7M2647.5 543.2V555.8M2658.0 543.2V572.0M2665.1 540.2V547.4M2668.6 538.7V540.2M2672.1 522.1V538.7M2675.7 510.1V522.1M2679.2 498.0V510.1M2693.3 563.4V565.8M2703.8 555.2V581.8M2707.4 553.4V555.2M2728.5 595.2V598.3M2732.0 587.3V595.2M2735.6 570.3V587.3M2739.1 559.2V570.3M2746.1 561.3V564.7M2749.6 535.2V561.3M2763.7 585.3V600.3M2767.3 579.5V585.3M2774.3 577.3V586.3M2777.8 573.4V577.3M2781.4 546.2V573.4M2788.4 524.1V549.4M2791.9 523.4V524.6M2799.0 511.1V541.2M2802.5 507.1V511.1M2813.1 520.1V527.2M2823.6 530.2V533.1M2830.7 520.1V540.2M2848.3 539.2V565.2M2858.9 570.4V572.3M2869.4 572.8V575.7M2873.0 566.2V572.8M2880.0 564.2V578.3M2887.1 564.2V571.3M2901.2 576.7V577.9M2904.7 575.2V576.9M2908.2 560.2V575.2M2918.8 575.4V576.6M2932.9 657.8V660.5M2939.9 646.5V660.3M2943.4 588.3V646.5M2950.5 638.4V644.5M2954.0 613.4V638.4M2975.1 670.5V705.6M2978.7 663.2V670.5M2985.7 663.5V684.6M2989.2 662.5V663.7M2996.3 663.5V672.5M3003.3 640.4V672.5M3010.4 658.7V659.9M3017.4 646.5V661.3M3020.9 633.4V646.5M3031.5 635.6V641.5M3049.1 653.5V676.3M3056.2 668.4V673.5M3059.7 667.3V668.5M3063.2 663.4V667.4M3070.3 700.4V707.6M3077.3 674.5V724.7M3084.4 667.5V698.6M3087.9 652.5V667.5M3094.9 662.2V664.5M3098.5 659.8V662.2M3105.5 657.2V661.6M3116.1 652.7V658.6M3119.6 630.4V652.7M3123.1 591.6V630.4M3126.6 587.4V591.6M3133.7 586.1V597.4M3144.3 584.5V590.9M3154.8 572.7V593.0M3158.4 571.2V572.7M3168.9 584.9V586.1M3172.4 570.3V584.9M3176.0 568.1V570.3M3179.5 527.8V568.1M3186.5 519.1V528.0M3197.1 523.8V531.7M3204.2 524.6V531.6M3211.2 523.0V524.8M3214.7 508.9V523.0M3221.8 506.5V513.8M3225.3 489.2V506.5M3228.8 477.3V489.2M3235.9 501.4V504.9M3239.4 492.3V501.4M3242.9 490.2V492.3M3260.5 521.5V524.6M3264.1 513.6V521.5M3267.6 507.4V513.6M3281.7 520.7V540.4M3285.2 514.4V520.7M3288.7 511.5V514.4M3292.2 485.2V511.5M3306.3 510.6V512.8M3313.4 512.0V518.8M3316.9 509.5V512.0M3327.5 518.8V522.1M3341.6 515.2V542.7M3345.1 512.9V515.2M3348.6 504.1V512.9M3355.7 501.3V504.5M3362.7 498.6V504.7"/>
<path stroke="#e4374b" stroke-width="3.2" d="M29.7 1717.4V1721.6M33.2 1721.6V1726.8M36.7 1726.8V1731.4M50.8 1693.8V1700.7M57.8 1699.4V1702.8M64.9 1699.1V1701.4M68.4 1701.1V1702.3M75.5 1693.3V1697.9M82.5 1690.6V1696.6M96.6 1674.5V1680.8M100.1 1680.8V1715.9M110.7 1711.7V1720.9M121.3 1703.1V1705.5M124.8 1705.5V1710.9M128.3 1710.9V1713.2M138.9 1708.3V1712.4M142.4 1712.4V1716.1M145.9 1716.1V1720.7M153.0 1718.0V1721.3M167.1 1709.5V1710.7M170.6 1710.3V1711.6M177.6 1702.4V1703.9M205.8 1565.4V1572.9M216.4 1555.5V1574.2M227.0 1513.7V1514.9M230.5 1514.5V1516.7M241.1 1503.5V1504.7M244.6 1504.4V1505.6M258.7 1485.2V1505.3M265.7 1486.4V1495.2M279.8 1491.3V1505.3M283.3 1505.2V1506.4M286.9 1506.3V1508.1M293.9 1502.8V1540.4M297.4 1540.4V1546.7M304.5 1539.9V1541.1M308.0 1540.7V1544.1M318.6 1470.2V1489.0M329.1 1457.6V1467.6M336.2 1457.6V1466.4M339.7 1466.3V1467.5M343.2 1467.5V1477.7M346.8 1477.7V1500.2M357.3 1489.0V1495.0M360.9 1495.0V1502.7M367.9 1490.2V1496.1M371.4 1496.1V1521.6M374.9 1521.0V1522.2M382.0 1514.8V1521.6M385.5 1521.6V1527.8M389.0 1527.8V1542.9M392.6 1542.9V1585.5M413.7 1457.6V1463.6M424.3 1390.0V1399.1M431.3 1374.9V1378.2M434.8 1378.1V1379.3M438.4 1379.2V1391.0M445.4 1374.9V1389.0M448.9 1389.0V1390.4M456.0 1376.9V1395.1M459.5 1394.8V1396.0M466.6 1368.8V1374.9M473.6 1366.3V1367.5M477.1 1366.9V1372.5M480.6 1372.5V1378.9M491.2 1366.8V1376.9M494.7 1376.9V1381.6M512.4 1328.4V1337.2M526.4 1321.5V1325.1M530.0 1325.1V1344.6M537.0 1340.7V1358.7M540.5 1358.7V1370.8M544.1 1370.8V1395.1M551.1 1380.9V1387.0M568.7 1340.6V1346.6M572.2 1346.6V1350.6M575.8 1350.1V1351.3M579.3 1350.9V1374.9M589.9 1354.7V1357.2M596.9 1342.6V1349.6M600.4 1349.6V1362.8M604.0 1362.8V1380.9M607.5 1380.9V1384.2M611.0 1384.2V1392.7M614.5 1392.7V1403.1M618.1 1403.1V1407.1M621.6 1407.0V1408.2M632.1 1396.4V1400.9M639.2 1393.0V1405.2M649.8 1400.0V1407.2M660.3 1395.1V1417.3M677.9 1374.9V1381.9M685.0 1381.2V1395.1M688.5 1395.1V1403.1M695.6 1394.6V1395.8M699.1 1395.3V1397.9M702.6 1397.9V1433.4M709.7 1395.1V1417.3M716.7 1411.2V1414.1M720.2 1414.1V1429.4M734.3 1423.5V1447.5M748.4 1408.7V1417.3M762.5 1332.5V1335.3M769.6 1318.4V1323.7M773.1 1323.7V1326.5M783.6 1321.4V1329.5M794.2 1321.2V1322.4M804.8 1306.2V1317.3M808.3 1316.9V1318.1M811.8 1317.6V1334.5M818.9 1324.4V1329.5M829.5 1317.8V1324.0M833.0 1324.0V1327.5M840.0 1300.2V1324.4M847.1 1323.2V1326.6M850.6 1326.6V1329.9M854.1 1329.9V1336.5M861.2 1332.2V1336.3M868.2 1335.8V1343.8M875.3 1330.5V1350.6M885.8 1339.7V1349.6M892.9 1345.3V1348.6M896.4 1348.6V1350.4M907.0 1340.2V1349.6M914.0 1348.3V1355.7M924.6 1348.5V1354.0M931.6 1336.9V1338.1M935.1 1337.7V1342.5M942.2 1341.3V1345.4M952.8 1342.7V1350.2M956.3 1350.2V1360.3M959.8 1360.3V1409.7M963.3 1409.7V1424.0M970.4 1421.7V1424.6M977.4 1424.1V1425.3M984.5 1415.4V1417.2M988.0 1417.2V1424.0M991.5 1423.9V1425.1M1005.6 1383.2V1393.2M1009.1 1393.2V1426.2M1016.2 1425.8V1434.5M1023.2 1425.4V1429.9M1026.8 1429.9V1431.1M1030.3 1431.0V1432.2M1037.3 1419.0V1426.9M1040.8 1426.9V1428.6M1047.9 1428.3V1446.2M1069.0 1406.0V1415.6M1079.6 1395.7V1396.9M1083.1 1396.6V1411.1M1090.2 1410.0V1412.2M1093.7 1412.2V1419.7M1100.7 1418.0V1419.4M1104.3 1419.2V1420.4M1111.3 1400.4V1401.6M1121.9 1377.4V1391.1M1132.5 1383.2V1390.3M1143.0 1376.0V1379.6M1146.5 1379.6V1391.8M1150.1 1391.8V1394.5M1153.6 1394.5V1404.7M1157.1 1404.4V1405.6M1160.6 1404.9V1406.1M1174.7 1365.3V1371.5M1206.4 1241.7V1250.2M1213.5 1248.7V1250.5M1220.5 1242.8V1244.4M1231.1 1224.5V1235.3M1234.6 1235.3V1237.0M1245.2 1229.3V1230.5M1262.8 1189.7V1190.9M1266.3 1190.5V1194.5M1269.9 1194.5V1204.1M1273.4 1204.1V1222.4M1280.4 1180.5V1211.6M1294.5 1189.6V1190.8M1298.0 1190.2V1217.0M1315.7 1183.9V1188.8M1319.2 1188.8V1197.9M1329.8 1178.0V1184.4M1350.9 1081.6V1084.5M1354.4 1084.5V1093.4M1361.5 1080.5V1087.0M1368.5 1085.4V1124.6M1379.1 1098.8V1103.4M1382.6 1103.4V1113.8M1389.7 1112.2V1122.4M1396.7 1105.2V1106.5M1410.8 1082.9V1086.9M1414.3 1086.9V1097.7M1421.4 1089.1V1105.2M1428.4 1097.7V1104.2M1431.9 1104.2V1111.7M1439.0 1110.5V1111.7M1449.6 1069.8V1099.9M1470.7 1042.9V1051.5M1477.7 1045.0V1056.9M1481.3 1056.9V1100.9M1484.8 1100.9V1104.9M1488.3 1104.9V1117.1M1495.4 1096.6V1105.2M1502.4 1101.8V1123.5M1509.4 1117.9V1119.1M1516.5 1118.4V1152.5M1527.1 1142.4V1146.6M1544.7 1094.5V1098.1M1548.2 1098.1V1104.2M1558.8 1093.6V1096.7M1562.3 1096.7V1103.1M1565.8 1103.1V1107.6M1594.0 1001.8V1006.2M1608.1 970.6V978.2M1618.7 972.3V975.4M1625.7 972.7V984.1M1629.2 984.1V987.5M1650.4 856.4V860.8M1657.4 855.0V860.4M1668.0 798.5V841.1M1675.0 808.0V812.3M1692.7 763.1V772.6M1699.7 753.6V767.8M1703.2 767.8V796.2M1706.8 796.2V824.5M1713.8 796.2V803.3M1717.3 803.3V860.0M1724.4 802.1V822.2M1727.9 822.2V841.1M1745.5 782.3V783.5M1749.0 783.1V784.3M1756.1 779.1V781.7M1763.1 770.2V784.4M1766.6 784.4V824.5M1777.2 795.0V804.9M1791.3 766.6V787.9M1798.4 773.7V780.8M1801.9 780.8V808.0M1805.4 808.0V838.7M1812.5 822.2V845.8M1819.5 845.7V868.3M1833.6 831.6V833.4M1840.6 811.1V812.3M1844.2 811.8V835.2M1851.2 833.9V838.8M1854.7 838.8V845.8M1858.3 845.8V849.3M1861.8 849.3V851.2M1865.3 851.2V874.2M1868.8 874.2V900.2M1882.9 841.1V842.7M1886.4 842.7V847.1M1890.0 847.1V856.4M1893.5 856.4V869.4M1900.5 849.4V873.0M1914.6 851.7V864.7M1921.7 816.3V824.5M1932.2 805.1V816.3M1939.3 769.0V779.6M1942.8 779.6V787.9M1946.3 787.9V799.7M1953.4 786.8V791.9M1956.9 791.9V796.7M1964.0 789.1V796.2M1967.5 796.2V805.6M1974.5 798.5V803.3M1981.6 799.8V804.9M1995.7 768.6V778.1M1999.2 778.1V788.1M2002.7 788.0V789.2M2009.8 785.4V786.6M2013.3 786.3V806.2M2020.3 798.2V812.2M2023.8 812.2V819.2M2034.4 813.6V816.4M2037.9 816.4V828.2M2041.5 827.8V829.0M2045.0 828.6V830.9M2048.5 830.9V837.3M2052.0 837.1V838.3M2055.6 838.2V848.3M2059.1 848.3V878.4M2066.1 857.3V872.4M2073.2 863.3V878.4M2087.3 848.7V858.3M2090.8 858.3V876.4M2094.3 876.4V915.5M2097.8 915.0V916.2M2104.9 900.4V927.5M2115.5 902.5V910.5M2119.0 909.9V911.1M2140.1 825.7V838.3M2161.3 797.2V820.2M2164.8 820.2V826.2M2175.4 800.2V802.9M2182.4 800.9V812.2M2185.9 812.2V815.1M2189.4 815.1V832.3M2196.5 826.2V866.4M2200.0 866.4V874.4M2203.5 874.4V902.5M2207.1 902.5V948.6M2214.1 926.5V936.6M2221.2 863.3V872.4M2228.2 870.3V894.4M2238.8 874.4V895.4M2242.3 895.4V908.5M2252.9 888.4V898.4M2277.5 831.6V838.7M2281.0 838.7V851.3M2284.6 851.3V888.4M2288.1 888.4V890.0M2298.7 888.0V896.3M2302.2 896.3V911.5M2309.2 890.4V908.5M2316.3 902.5V924.5M2319.8 924.5V950.6M2323.3 950.6V955.3M2348.0 876.4V884.3M2351.5 884.3V890.4M2355.0 890.4V901.5M2369.1 851.3V852.6M2386.7 839.1V842.6M2397.3 818.3V821.9M2404.4 821.4V845.4M2407.9 845.4V871.0M2411.4 870.9V872.1M2429.0 851.4V852.9M2432.6 852.9V855.0M2436.1 855.0V874.0M2439.6 874.0V881.0M2460.7 803.3V805.3M2464.3 805.3V806.8M2471.3 795.5V796.7M2478.4 789.8V806.3M2481.9 806.3V817.1M2492.4 806.3V813.8M2513.6 752.1V782.3M2517.1 782.3V784.6M2520.6 784.6V786.8M2524.2 786.8V792.8M2527.7 792.8V803.3M2555.9 627.4V631.7M2562.9 618.3V636.4M2570.0 609.3V612.8M2573.5 612.8V615.3M2577.0 614.8V616.0M2591.1 558.2V560.3M2598.1 557.2V564.2M2601.7 564.2V595.8M2605.2 595.8V603.3M2619.3 568.7V571.1M2622.8 571.1V572.9M2626.3 572.9V578.0M2636.9 559.7V568.7M2643.9 552.2V555.8M2651.0 543.2V567.2M2654.5 567.2V572.0M2661.6 543.2V547.4M2682.7 498.0V546.2M2686.2 546.2V564.2M2689.8 564.2V565.8M2696.8 563.4V579.2M2700.3 579.2V581.8M2710.9 553.4V577.7M2714.4 577.3V578.5M2717.9 578.1V585.3M2721.5 585.3V592.3M2725.0 592.3V598.3M2742.6 559.2V564.7M2753.2 535.2V569.2M2756.7 569.2V582.3M2760.2 582.3V600.3M2770.8 579.5V586.3M2784.9 546.2V549.4M2795.5 523.9V541.2M2806.0 507.1V526.1M2809.5 526.0V527.2M2816.6 520.1V521.8M2820.1 521.8V533.1M2827.2 530.2V540.2M2834.2 520.1V522.9M2837.7 522.9V532.1M2841.3 532.1V545.2M2844.8 545.2V565.2M2851.8 539.2V563.2M2855.3 563.2V572.3M2862.4 570.4V573.5M2865.9 573.5V575.7M2876.5 566.2V578.3M2883.5 564.2V571.3M2890.6 564.2V566.3M2894.1 566.3V574.3M2897.6 574.3V577.6M2911.7 560.2V574.3M2915.2 574.3V576.0M2922.3 576.0V605.4M2925.8 605.4V628.4M2929.3 628.4V660.5M2936.4 657.8V660.3M2947.0 588.3V644.5M2957.5 613.4V617.9M2961.0 617.9V640.4M2964.6 640.4V645.3M2968.1 645.3V688.6M2971.6 688.6V705.6M2982.2 663.2V684.6M2992.8 662.6V672.5M2999.8 663.5V672.5M3006.8 640.4V659.5M3013.9 659.1V661.3M3024.5 633.4V635.9M3028.0 635.9V641.5M3035.0 635.6V659.5M3038.6 659.5V673.5M3042.1 673.4V674.6M3045.6 674.6V676.3M3052.7 653.5V673.5M3066.7 663.4V707.6M3073.8 700.4V724.7M3080.8 674.5V698.6M3091.4 652.5V664.5M3102.0 659.8V661.6M3109.0 656.7V657.9M3112.5 657.4V658.6M3130.2 587.4V597.4M3137.2 586.1V587.5M3140.7 587.5V590.9M3147.8 584.5V588.9M3151.3 588.9V593.0M3161.9 571.2V575.4M3165.4 575.4V586.1M3183.0 527.3V528.5M3190.1 519.1V521.9M3193.6 521.9V531.7M3200.6 523.8V531.6M3207.7 524.1V525.3M3218.2 508.9V513.8M3232.3 477.3V504.9M3246.4 490.2V491.9M3250.0 491.9V499.4M3253.5 499.4V514.4M3257.0 514.4V524.6M3271.1 507.4V515.2M3274.6 515.2V522.4M3278.1 522.4V540.4M3295.8 485.2V491.5M3299.3 491.5V494.3M3302.8 494.3V512.8M3309.9 510.6V518.8M3320.4 509.5V519.1M3323.9 519.1V522.1M3331.0 518.8V527.8M3334.5 527.8V534.9M3338.0 534.9V542.7M3352.1 503.7V504.9M3359.2 501.3V504.7M3366.2 498.2V499.4"/>
</g>
<path fill="none" stroke="#f57c00" stroke-opacity="0.6" stroke-width="4.0" d="M716.7 1770.0V1780.5M723.8 1764.7V1778.2M730.8 1754.5V1771.8M737.8 1749.9V1767.8M744.9 1752.1V1762.6M751.9 1753.7V1766.4M759.0 1749.7V1764.1M766.0 1754.6V1779.4M773.1 1707.6V1751.9M780.1 1708.3V1717.3M787.2 1684.3V1723.3M794.2 1698.0V1714.5M801.3 1693.3V1712.0M808.3 1694.4V1710.0M815.4 1685.5V1708.7M822.4 1685.9V1703.1M829.5 1696.5V1711.3M836.5 1695.6V1718.3M843.5 1717.1V1747.8M850.6 1734.0V1756.8M857.6 1730.9V1754.5M864.7 1672.1V1727.2M871.7 1662.7V1693.6M878.8 1662.4V1678.8M885.8 1667.2V1688.6M892.9 1676.7V1698.1M899.9 1697.1V1703.6M907.0 1692.4V1708.9M914.0 1691.2V1703.9M921.1 1698.7V1725.8M928.1 1713.3V1743.6M935.1 1719.3V1735.4M942.2 1736.2V1790.6M949.2 1774.7V1813.4M956.3 1774.0V1803.2M963.3 1772.9V1794.7M970.4 1788.0V1810.0M977.4 1789.6V1810.9M984.5 1761.0V1812.9M991.5 1779.2V1788.8M998.6 1772.9V1793.5M1005.6 1779.7V1789.8M1012.7 1775.3V1791.7M1019.7 1776.3V1800.5M1026.8 1788.5V1804.0M1033.8 1792.6V1822.7M1040.8 1808.3V1832.4M1047.9 1835.8V1851.5M1054.9 1827.4V1870.5M1062.0 1806.6V1854.8M1069.0 1804.6V1825.5M1076.1 1793.3V1824.9M1083.1 1822.9V1848.8M1090.2 1811.3V1831.7M1097.2 1811.2V1826.6M1104.3 1815.0V1840.1M1111.3 1826.5V1854.9M1118.4 1855.1V1886.3M1125.4 1855.2V1873.9M1132.5 1855.2V1866.7M1139.5 1853.6V1865.5M1146.5 1853.8V1873.2M1153.6 1838.5V1873.4M1160.6 1853.8V1869.7M1167.7 1859.6V1877.2M1174.7 1845.2V1874.1M1181.8 1839.1V1851.0M1188.8 1832.7V1869.3M1195.9 1841.3V1877.9M1202.9 1852.3V1896.4M1210.0 1866.7V1881.3M1217.0 1857.4V1874.5M1224.1 1875.1V1896.9M1231.1 1871.0V1887.7M1238.2 1874.5V1909.6M1245.2 1872.8V1900.7M1252.2 1863.0V1881.7M1259.3 1807.5V1857.0M1266.3 1773.2V1808.2M1273.4 1785.9V1810.9M1280.4 1791.2V1810.1M1287.5 1789.6V1801.6M1294.5 1779.0V1806.0M1301.6 1783.8V1811.1M1308.6 1783.9V1796.4M1315.7 1785.3V1804.6M1322.7 1792.9V1803.4M1329.8 1791.2V1799.5M1336.8 1772.3V1799.1M1343.9 1782.6V1818.3M1350.9 1790.4V1813.1M1357.9 1795.1V1814.3M1365.0 1790.3V1821.2M1372.0 1798.6V1818.0M1379.1 1801.7V1820.9M1386.1 1812.3V1821.4M1393.2 1808.4V1822.7M1400.2 1810.9V1820.7M1407.3 1809.4V1825.1M1414.3 1812.4V1823.2M1421.4 1808.9V1829.4M1428.4 1793.6V1831.1M1435.5 1801.0V1834.4M1442.5 1807.0V1831.2M1449.6 1797.8V1820.8M1456.6 1813.0V1826.7M1463.6 1839.4V1877.4M1470.7 1870.5V1885.7M1477.7 1872.3V1887.4M1484.8 1870.4V1882.5M1491.8 1864.8V1890.9M1498.9 1875.7V1893.3M1505.9 1840.6V1858.7M1513.0 1860.2V1896.8M1520.0 1874.4V1890.2M1527.1 1863.5V1893.1M1534.1 1874.5V1898.7M1541.2 1877.8V1887.3M1548.2 1872.2V1905.5M1555.3 1869.0V1894.6M1562.3 1860.2V1878.2M1569.3 1857.5V1876.3M1576.4 1852.2V1874.6M1583.4 1855.2V1868.0M1590.5 1855.5V1875.1M1597.5 1859.0V1879.2M1604.6 1871.8V1883.8M1611.6 1841.3V1869.1M1618.7 1846.4V1880.5M1625.7 1834.7V1854.5M1632.8 1839.4V1856.9M1639.8 1837.9V1863.2M1646.9 1840.0V1853.7M1653.9 1845.6V1866.4M1660.9 1841.1V1874.6M1668.0 1856.1V1869.8M1675.0 1851.4V1881.6M1682.1 1874.0V1887.9M1689.1 1855.5V1878.2M1696.2 1858.0V1873.4M1703.2 1855.0V1871.3M1710.3 1853.3V1880.1M1717.3 1850.6V1872.9M1724.4 1824.2V1875.6M1731.4 1826.6V1853.8M1738.5 1824.8V1844.5M1745.5 1824.4V1852.6M1752.6 1825.0V1855.5M1759.6 1826.1V1854.1M1766.6 1822.2V1834.8M1773.7 1824.6V1857.9M1780.7 1816.9V1828.1M1787.8 1819.0V1837.3M1794.8 1810.2V1825.0M1801.9 1799.6V1828.6M1808.9 1801.8V1830.3M1816.0 1815.9V1867.2M1823.0 1838.6V1854.4M1830.1 1828.3V1848.8M1837.1 1829.9V1868.0M1844.2 1832.7V1854.5M1851.2 1817.1V1835.2M1858.3 1797.7V1825.3M1865.3 1819.7V1835.9M1872.3 1826.2V1836.7M1879.4 1812.8V1842.2M1886.4 1825.7V1847.1M1893.5 1793.5V1838.7M1900.5 1810.2V1863.1M1907.6 1808.9V1826.8M1914.6 1788.7V1825.9M1921.7 1780.7V1799.5M1928.7 1780.9V1835.3M1935.8 1819.3V1842.7M1942.8 1812.8V1844.8M1949.9 1823.0V1848.1M1956.9 1846.3V1864.7M1964.0 1834.9V1866.4M1971.0 1859.6V1883.1M1978.0 1865.5V1876.3M1985.1 1834.0V1856.6M1992.1 1821.0V1843.0M1999.2 1816.6V1835.6M2006.2 1821.0V1836.1M2013.3 1825.9V1836.0M2020.3 1829.5V1841.7M2027.4 1832.4V1845.7M2034.4 1827.3V1852.6M2041.5 1825.6V1850.2M2048.5 1836.6V1850.0M2055.6 1834.5V1879.3M2062.6 1826.7V1859.4M2069.7 1805.8V1842.1M2076.7 1807.1V1820.2M2083.7 1792.7V1813.5M2090.8 1808.9V1847.7M2097.8 1827.3V1856.2M2104.9 1854.3V1897.4M2111.9 1843.7V1869.4M2119.0 1848.7V1871.4M2126.0 1814.9V1833.4M2133.1 1813.4V1821.3M2140.1 1815.4V1829.2M2147.2 1815.4V1829.4M2154.2 1817.9V1865.1M2161.3 1832.0V1852.4M2168.3 1821.3V1837.8M2175.4 1800.9V1825.5M2182.4 1818.1V1828.1M2189.4 1811.2V1894.4M2196.5 1858.8V1875.2M2203.5 1863.6V1907.5M2210.6 1859.7V1907.5M2217.6 1853.2V1876.0M2224.7 1842.9V1872.2M2231.7 1837.3V1875.8M2238.8 1863.7V1889.7M2245.8 1863.4V1877.5M2252.9 1866.2V1937.6M2259.9 1885.3V1924.1M2267.0 1864.1V1881.0M2274.0 1845.7V1876.2M2281.0 1866.5V1909.8M2288.1 1883.8V1909.4M2295.1 1884.1V1904.0M2302.2 1873.8V1887.7M2309.2 1842.3V1859.0M2316.3 1829.8V1851.7M2323.3 1808.3V1823.8M2330.4 1815.3V1836.2M2337.4 1817.2V1838.2M2344.5 1810.1V1830.7M2351.5 1808.3V1840.5M2358.6 1820.6V1842.3M2365.6 1829.4V1852.7M2372.7 1816.8V1832.0M2379.7 1797.3V1819.2M2386.7 1805.6V1842.1M2393.8 1812.6V1825.9M2400.8 1826.2V1847.3M2407.9 1831.4V1852.3M2414.9 1840.6V1861.9M2422.0 1843.6V1861.9M2429.0 1853.0V1865.5M2436.1 1856.9V1872.8M2443.1 1865.4V1919.5M2450.2 1887.2V1897.3M2457.2 1883.8V1900.8M2464.3 1890.0V1903.2M2471.3 1874.7V1886.9M2478.4 1885.6V1925.7M2485.4 1931.6V1963.3M2492.4 1924.2V1947.1M2499.5 1917.4V1937.8M2506.5 1911.7V1930.7M2513.6 1896.8V1924.5M2520.6 1860.3V1888.3M2527.7 1839.6V1869.1M2534.7 1832.8V1865.4M2541.8 1821.3V1845.1M2548.8 1837.8V1850.4M2555.9 1836.0V1861.0M2562.9 1829.0V1842.2M2570.0 1807.6V1860.0M2577.0 1837.7V1876.3M2584.1 1864.6V1902.6M2591.1 1907.8V2015.3M2598.1 1916.7V1957.0M2605.2 1886.1V1958.6M2612.2 1884.7V1914.8M2619.3 1892.2V1921.7M2626.3 1878.3V1940.7M2633.4 1892.8V1932.2M2640.4 1906.7V1918.6M2647.5 1895.9V1929.4M2654.5 1866.8V1911.6M2661.6 1846.4V1884.5M2668.6 1860.8V1899.5M2675.7 1886.8V1922.6M2682.7 1909.3V1918.7M2689.8 1908.4V1924.4M2696.8 1911.6V1944.7M2703.8 1931.5V1977.0M2710.9 1948.9V1974.2M2717.9 1930.3V1972.1M2725.0 1900.5V1937.5M2732.0 1896.2V1924.0M2739.1 1886.8V1925.0M2746.1 1885.9V1915.5M2753.2 1871.7V1898.9M2760.2 1868.2V1880.4M2767.3 1855.1V1879.5M2774.3 1847.6V1881.2M2781.4 1846.0V1876.9M2788.4 1847.9V1871.0M2795.5 1868.7V1900.7M2802.5 1889.5V1909.2M2809.5 1876.3V1900.0M2816.6 1863.1V1882.1M2823.6 1863.3V1914.7M2830.7 1874.8V1897.6M2837.7 1857.3V1884.2M2844.8 1830.6V1853.3M2851.8 1825.0V1850.2M2858.9 1819.6V1845.3M2865.9 1823.5V1852.8M2873.0 1836.8V1852.5M2880.0 1830.2V1846.4M2887.1 1821.3V1846.9M2894.1 1798.0V1811.5M2901.2 1805.9V1823.3M2908.2 1816.4V1835.4M2915.2 1822.1V1853.3M2922.3 1821.2V1845.5M2929.3 1816.4V1839.8M2936.4 1818.7V1841.4M2943.4 1836.9V1878.3M2950.5 1876.6V1900.5M2957.5 1888.7V1921.1M2964.6 1881.2V1909.5M2971.6 1876.7V1911.0M2978.7 1889.6V1926.1M2985.7 1892.7V1915.6M2992.8 1892.4V1909.5M2999.8 1878.8V1905.5M3006.8 1865.8V1899.9M3013.9 1874.5V1899.3M3020.9 1894.2V1916.0M3028.0 1898.2V1918.4M3035.0 1891.2V1923.6M3042.1 1860.4V1904.8M3049.1 1847.1V1882.1M3056.2 1824.6V1866.1M3063.2 1842.4V1866.4M3070.3 1844.6V1854.5M3077.3 1836.2V1856.7M3084.4 1847.3V1874.6M3091.4 1842.8V1859.3M3098.5 1841.2V1870.9M3105.5 1865.9V1921.5M3112.5 1873.5V1892.0M3119.6 1880.6V1901.6M3126.6 1887.2V1905.3M3133.7 1884.6V1894.6M3140.7 1882.5V1897.5M3147.8 1880.5V1903.4M3154.8 1866.7V1896.8M3161.9 1887.4V1898.9M3168.9 1876.2V1896.1M3176.0 1884.6V1899.7M3183.0 1914.9V1956.1M3190.1 1948.3V1977.0M3197.1 1949.1V1968.5M3204.2 1903.3V1960.7M3211.2 1923.5V1951.4M3218.2 1921.1V1963.1M3225.3 1951.4V1993.4M3232.3 1969.3V2016.6M3239.4 1964.6V1994.9M3246.4 1963.9V1973.2M3253.5 1961.5V1977.0M3260.5 1948.3V1977.0M3267.6 1961.5V1973.2M3274.6 1953.0V1968.5M3281.7 1938.2V1952.2M3288.7 1942.1V1955.3M3295.8 1963.1V1983.3M3302.8 1968.5V1985.6M3309.9 1938.2V1980.2M3316.9 1963.1V1983.3M3323.9 1967.7V2013.5M3331.0 1987.1V2019.8M3338.0 1956.9V2005.0M3345.1 1960.0V1970.1M3352.1 1958.4V1968.5M3359.2 1946.8V1968.5M3366.2 1949.9V1956.9M3373.3 1957.6V1986.4M3380.3 1964.6V1976.3M3387.4 1963.9V1974.7M3394.4 1953.8V1972.4M3401.5 1949.9V1966.2M3408.5 1925.0V1941.3M3415.6 1939.0V1952.2M3422.6 1933.6V1942.1M3429.6 1940.6V1953.0M3436.7 1955.3V1970.1M3443.7 1957.6V1969.3M3450.8 1952.2V1961.5M3457.8 1956.9V1987.1M3464.9 1956.1V1967.7M3471.9 1932.0V1960.7M3479.0 1933.6V1946.0M3486.0 1955.3V1973.9M3493.1 1955.3V1964.6M3500.1 1946.8V1970.8M3507.2 1960.0V1967.7M3514.2 1967.0V1984.0M3521.3 1955.3V1991.0M3528.3 1945.2V1957.6M3535.3 1946.8V1954.5"/>
<path fill="none" stroke="#f57c00" stroke-opacity="0.6" stroke-width="4.0" d="M720.2 1767.9V1777.7M727.3 1764.2V1775.5M734.3 1748.0V1772.6M741.4 1752.9V1771.6M748.4 1743.2V1771.7M755.5 1743.7V1772.2M762.5 1749.3V1775.2M769.6 1733.7V1764.0M776.6 1701.5V1732.8M783.6 1690.7V1720.3M790.7 1692.9V1722.1M797.7 1700.9V1718.2M804.8 1679.8V1710.6M811.8 1689.7V1720.4M818.9 1667.5V1703.6M825.9 1694.8V1708.8M833.0 1701.5V1712.0M840.0 1701.8V1729.6M847.1 1718.9V1746.7M854.1 1735.3V1748.9M861.2 1708.9V1748.8M868.2 1667.4V1686.0M875.3 1664.5V1680.4M882.3 1668.3V1679.5M889.3 1670.9V1686.0M896.4 1685.0V1704.8M903.4 1674.7V1712.6M910.5 1671.9V1704.3M917.5 1689.9V1711.2M924.6 1703.4V1732.5M931.6 1712.9V1729.1M938.7 1728.3V1763.8M945.7 1781.0V1803.0M952.8 1784.3V1802.8M959.8 1781.7V1795.7M966.9 1783.2V1802.2M973.9 1790.7V1804.8M981.0 1776.9V1808.9M988.0 1771.8V1790.8M995.0 1774.8V1787.0M1002.1 1779.7V1812.4M1009.1 1776.6V1791.0M1016.2 1773.8V1804.9M1023.2 1788.8V1806.2M1030.3 1791.8V1809.4M1037.3 1790.1V1817.8M1044.4 1817.2V1846.0M1051.4 1842.4V1857.4M1058.5 1829.5V1874.9M1065.5 1802.6V1833.0M1072.6 1809.6V1826.1M1079.6 1806.4V1837.1M1086.7 1821.6V1833.0M1093.7 1814.4V1831.7M1100.7 1810.7V1831.3M1107.8 1830.0V1848.2M1114.8 1843.0V1875.9M1121.9 1857.8V1873.0M1128.9 1854.4V1871.1M1136.0 1850.2V1863.6M1143.0 1855.3V1878.0M1150.1 1849.8V1865.8M1157.1 1856.3V1876.0M1164.2 1842.5V1881.6M1171.2 1855.4V1875.7M1178.3 1840.6V1858.8M1185.3 1834.7V1856.5M1192.4 1843.7V1869.9M1199.4 1853.8V1872.4M1206.4 1860.9V1889.6M1213.5 1857.0V1892.8M1220.5 1862.2V1887.0M1227.6 1879.0V1903.2M1234.6 1876.9V1896.2M1241.7 1883.4V1900.2M1248.7 1866.9V1884.8M1255.8 1842.9V1872.2M1262.8 1794.5V1837.8M1269.9 1787.7V1799.6M1276.9 1781.0V1798.7M1284.0 1785.7V1803.0M1291.0 1781.7V1803.8M1298.0 1790.0V1801.0M1305.1 1779.4V1791.6M1312.1 1783.4V1800.1M1319.2 1795.7V1808.9M1326.2 1788.5V1821.5M1333.3 1781.3V1799.5M1340.3 1779.4V1798.9M1347.4 1772.3V1802.0M1354.4 1784.2V1817.3M1361.5 1797.7V1809.9M1368.5 1783.6V1816.0M1375.6 1792.3V1818.9M1382.6 1806.9V1822.1M1389.7 1810.2V1838.7M1396.7 1811.9V1821.4M1403.7 1813.7V1834.6M1410.8 1807.9V1821.9M1417.8 1814.4V1825.8M1424.9 1800.2V1828.1M1431.9 1806.1V1817.4M1439.0 1805.6V1826.4M1446.0 1811.5V1823.0M1453.1 1810.8V1820.4M1460.1 1810.7V1897.4M1467.2 1864.0V1896.3M1474.2 1869.7V1904.3M1481.3 1864.8V1900.4M1488.3 1871.8V1889.3M1495.4 1861.6V1885.9M1502.4 1838.9V1887.7M1509.4 1849.7V1870.0M1516.5 1879.6V1894.8M1523.5 1876.3V1886.4M1530.6 1861.7V1890.7M1537.6 1876.3V1887.3M1544.7 1870.8V1889.8M1551.7 1876.6V1900.2M1558.8 1864.2V1882.9M1565.8 1859.8V1884.4M1572.9 1856.9V1893.2M1579.9 1851.3V1880.5M1587.0 1857.8V1878.1M1594.0 1846.2V1875.9M1601.1 1872.4V1880.2M1608.1 1854.9V1879.5M1615.1 1857.0V1866.8M1622.2 1829.8V1861.3M1629.2 1826.7V1858.7M1636.3 1831.5V1856.0M1643.3 1839.7V1855.0M1650.4 1837.6V1865.0M1657.4 1851.6V1882.3M1664.5 1858.5V1870.0M1671.5 1856.4V1868.2M1678.6 1866.6V1902.4M1685.6 1869.1V1894.6M1692.7 1855.7V1886.0M1699.7 1851.8V1880.5M1706.8 1851.9V1870.1M1713.8 1855.5V1878.9M1720.8 1836.7V1860.8M1727.9 1825.5V1843.4M1734.9 1825.8V1849.1M1742.0 1829.2V1865.2M1749.0 1829.2V1855.5M1756.1 1815.6V1844.1M1763.1 1819.2V1834.1M1770.2 1823.4V1838.6M1777.2 1815.3V1844.5M1784.3 1816.8V1829.9M1791.3 1817.2V1838.5M1798.4 1811.9V1826.4M1805.4 1814.1V1845.8M1812.5 1813.7V1825.1M1819.5 1821.5V1853.8M1826.5 1833.0V1848.0M1833.6 1830.8V1848.7M1840.6 1828.5V1860.2M1847.7 1822.5V1862.0M1854.7 1814.3V1827.3M1861.8 1813.2V1844.6M1868.8 1820.7V1837.6M1875.9 1815.6V1844.3M1882.9 1828.2V1844.5M1890.0 1821.3V1858.4M1897.0 1796.3V1826.7M1904.1 1816.0V1836.0M1911.1 1805.6V1827.0M1918.1 1781.1V1802.0M1925.2 1758.2V1799.3M1932.2 1809.5V1838.4M1939.3 1830.9V1840.9M1946.3 1825.0V1844.8M1953.4 1839.1V1869.3M1960.4 1836.6V1870.9M1967.5 1857.0V1893.9M1974.5 1866.3V1878.5M1981.6 1839.5V1877.0M1988.6 1829.9V1863.9M1995.7 1821.6V1845.1M2002.7 1820.9V1837.6M2009.8 1822.8V1837.7M2016.8 1828.4V1841.3M2023.8 1826.2V1846.0M2030.9 1822.2V1841.6M2037.9 1832.4V1845.4M2045.0 1834.9V1847.3M2052.0 1829.8V1848.7M2059.1 1836.9V1861.2M2066.1 1811.2V1837.2M2073.2 1810.7V1838.9M2080.2 1793.9V1818.8M2087.3 1782.5V1824.2M2094.3 1831.9V1849.2M2101.4 1842.6V1878.5M2108.4 1846.3V1879.5M2115.5 1851.3V1866.4M2122.5 1816.3V1871.6M2129.5 1814.2V1832.8M2136.6 1805.0V1827.1M2143.6 1807.7V1826.0M2150.7 1812.2V1849.6M2157.7 1828.3V1855.0M2164.8 1829.8V1860.7M2171.8 1811.8V1831.3M2178.9 1809.0V1828.0M2185.9 1806.7V1840.3M2193.0 1856.6V1872.5M2200.0 1859.8V1879.7M2207.1 1871.8V1889.8M2214.1 1866.2V1884.5M2221.2 1850.5V1866.7M2228.2 1842.7V1861.9M2235.2 1860.0V1891.3M2242.3 1869.7V1879.7M2249.3 1858.3V1878.5M2256.4 1892.2V1925.0M2263.4 1866.2V1909.1M2270.5 1850.1V1873.4M2277.5 1868.0V1883.1M2284.6 1880.7V1898.7M2291.6 1880.5V1897.3M2298.7 1879.7V1902.2M2305.7 1846.2V1884.6M2312.8 1828.9V1856.2M2319.8 1807.1V1867.8M2326.9 1808.4V1829.6M2333.9 1824.4V1838.6M2340.9 1816.5V1832.4M2348.0 1804.9V1852.5M2355.0 1827.4V1838.4M2362.1 1814.5V1840.3M2369.1 1819.1V1844.8M2376.2 1809.4V1838.0M2383.2 1792.7V1817.7M2390.3 1813.4V1844.4M2397.3 1816.9V1837.9M2404.4 1831.2V1849.8M2411.4 1840.5V1852.5M2418.5 1837.9V1855.8M2425.5 1850.6V1866.7M2432.6 1851.1V1873.0M2439.6 1864.4V1892.5M2446.6 1873.5V1900.9M2453.7 1874.5V1895.0M2460.7 1888.9V1901.3M2467.8 1871.5V1901.2M2474.8 1876.0V1894.3M2481.9 1901.8V1968.9M2488.9 1925.4V1947.8M2496.0 1928.2V1958.8M2503.0 1916.3V1927.7M2510.1 1902.4V1929.0M2517.1 1876.0V1918.4M2524.2 1861.0V1880.3M2531.2 1850.5V1873.3M2538.3 1826.9V1853.8M2545.3 1820.7V1850.6M2552.3 1842.0V1868.5M2559.4 1831.8V1850.4M2566.4 1825.0V1856.4M2573.5 1839.6V1858.0M2580.5 1845.8V1878.6M2587.6 1878.1V1924.4M2594.6 1941.0V1966.0M2601.7 1925.7V1943.6M2608.7 1881.0V1912.4M2615.8 1892.5V1915.4M2622.8 1885.0V1911.8M2629.9 1897.2V1925.3M2636.9 1906.5V1930.6M2643.9 1903.9V1918.9M2651.0 1888.1V1914.4M2658.0 1856.9V1883.5M2665.1 1861.4V1874.2M2672.1 1879.0V1910.5M2679.2 1906.3V1919.8M2686.2 1901.1V1924.0M2693.3 1911.8V1922.0M2700.3 1920.3V1940.3M2707.4 1949.6V1968.6M2714.4 1954.0V1969.4M2721.5 1927.3V1938.7M2728.5 1900.7V1940.8M2735.6 1900.2V1917.3M2742.6 1888.4V1921.8M2749.6 1869.2V1903.5M2756.7 1867.6V1889.8M2763.7 1868.1V1881.3M2770.8 1864.9V1891.2M2777.8 1849.3V1874.5M2784.9 1848.0V1867.4M2791.9 1857.2V1897.5M2799.0 1887.3V1917.5M2806.0 1877.4V1901.2M2813.1 1857.6V1894.6M2820.1 1873.3V1890.1M2827.2 1890.3V1906.0M2834.2 1872.9V1895.3M2841.3 1834.5V1872.2M2848.3 1815.7V1849.7M2855.3 1828.6V1861.6M2862.4 1825.5V1836.3M2869.4 1825.2V1850.6M2876.5 1824.1V1846.0M2883.5 1835.3V1845.6M2890.6 1779.4V1849.6M2897.6 1784.4V1815.8M2904.7 1812.8V1827.6M2911.7 1806.2V1839.7M2918.8 1819.7V1845.6M2925.8 1827.2V1836.7M2932.9 1820.3V1841.0M2939.9 1830.4V1864.0M2947.0 1863.6V1916.4M2954.0 1874.8V1903.0M2961.0 1894.9V1906.1M2968.1 1871.0V1895.1M2975.1 1893.5V1904.8M2982.2 1893.5V1920.0M2989.2 1881.9V1917.2M2996.3 1875.5V1903.9M3003.3 1873.9V1890.9M3010.4 1872.1V1883.6M3017.4 1885.3V1922.8M3024.5 1897.0V1912.9M3031.5 1890.2V1935.6M3038.6 1874.8V1902.8M3045.6 1853.5V1892.4M3052.7 1853.0V1867.8M3059.7 1843.7V1854.8M3066.7 1845.8V1856.7M3073.8 1839.0V1872.8M3080.8 1840.0V1872.5M3087.9 1851.2V1871.6M3094.9 1843.4V1856.3M3102.0 1853.9V1884.0M3109.0 1869.6V1888.8M3116.1 1878.9V1899.9M3123.1 1871.4V1898.4M3130.2 1888.0V1900.1M3137.2 1881.7V1902.6M3144.3 1877.5V1900.0M3151.3 1864.3V1903.3M3158.4 1868.2V1898.5M3165.4 1882.3V1905.1M3172.4 1881.5V1895.3M3179.5 1891.6V1921.9M3186.5 1932.8V1981.7M3193.6 1959.2V2005.0M3200.6 1900.2V1960.7M3207.7 1936.7V1983.3M3214.7 1913.4V1943.7M3221.8 1948.3V1958.4M3228.8 1966.2V2011.2M3235.9 1963.1V1990.2M3242.9 1958.4V1988.7M3250.0 1959.2V1980.2M3257.0 1966.2V1985.6M3264.1 1944.4V1973.9M3271.1 1963.1V1970.1M3278.1 1936.7V1956.9M3285.2 1939.0V1955.3M3292.2 1944.4V1970.1M3299.3 1969.3V1983.3M3306.3 1956.1V1977.8M3313.4 1968.5V1985.6M3320.4 1966.2V1978.6M3327.5 1984.0V2033.7M3334.5 1969.3V2031.4M3341.6 1960.0V1973.9M3348.6 1958.4V1973.9M3355.7 1960.0V1973.9M3362.7 1945.2V1954.5M3369.7 1953.8V1966.2M3376.8 1961.5V1980.9M3383.8 1966.2V1980.9M3390.9 1968.5V1973.9M3397.9 1949.9V1977.8M3405.0 1932.0V1956.1M3412.0 1927.4V1952.2M3419.1 1939.0V1953.8M3426.1 1932.0V1949.1M3433.2 1942.1V1961.5M3440.2 1961.5V1972.4M3447.3 1956.9V1969.3M3454.3 1956.1V1965.4M3461.4 1957.6V1982.5M3468.4 1953.8V1962.3M3475.4 1933.6V1943.7M3482.5 1942.1V1959.2M3489.5 1955.3V1965.4M3496.6 1940.6V1959.2M3503.6 1958.4V1970.8M3510.7 1953.8V1975.5M3517.7 1970.1V1999.6M3524.8 1955.3V1964.6M3531.8 1943.7V1954.5"/>
<g id="arrows" fill="#26a69a" fill-opacity="0.5" stroke="#26a69a" stroke-opacity="0.55" stroke-width="2.5" stroke-linejoin="round">
<path d="M195.5 1713.0l18.5 30h-8.5l-10 20.5l-10-20.5h-8.5z"/>
<path d="M409.7 1617.0l18.5 30h-8.5l-10 20.5l-10-20.5h-8.5z"/>
<path d="M505.6 1396.4l18.5 30h-8.5l-10 20.5l-10-20.5h-8.5z"/>
<path d="M1185.8 1396.0l18.5 30h-8.5l-10 20.5l-10-20.5h-8.5z"/>
<path d="M1343.6 1204.0l18.5 30h-8.5l-10 20.5l-10-20.5h-8.5z"/>
<path d="M1586.6 1118.0l18.5 30h-8.5l-10 20.5l-10-20.5h-8.5z"/>
<path d="M1653.7 1000.6l18.5 30h-8.5l-10 20.5l-10-20.5h-8.5z"/>
<path d="M2545.4 809.4l18.5 30h-8.5l-10 20.5l-10-20.5h-8.5z"/>
<path d="M2587.7 637.3l18.5 30h-8.5l-10 20.5l-10-20.5h-8.5z"/>
<path d="M3126.0 682.4l18.5 30h-8.5l-10 20.5l-10-20.5h-8.5z"/>
<path d="M3179.3 609.8l18.5 30h-8.5l-10 20.5l-10-20.5h-8.5z"/>
</g>
<g id="labels" font-family="Liberation Sans, sans-serif">
<text x="157.7" y="1453.9" font-size="33" font-weight="bold" fill="#4caf50" textLength="123.9" lengthAdjust="spacingAndGlyphs">29 Days</text>
<text x="280.0" y="1411.0" font-size="33" font-weight="bold" fill="#f57c00" textLength="125.4" lengthAdjust="spacingAndGlyphs">41 Days</text>
<text x="412.0" y="1288.0" font-size="33" font-weight="bold" fill="#4caf50" textLength="124.0" lengthAdjust="spacingAndGlyphs">29 Days</text>
<text x="753.3" y="1256.0" font-size="33" font-weight="bold" fill="#f57c00" textLength="145.3" lengthAdjust="spacingAndGlyphs">192 Days</text>
<text x="1220.6" y="1029.0" font-size="33" font-weight="bold" fill="#4caf50" textLength="125.6" lengthAdjust="spacingAndGlyphs">43 Days</text>
<rect x="1389.5" y="953.9" width="140.6" height="43.1" fill="#fff"/><text x="1397.0" y="988.4" font-size="33" font-weight="bold" fill="#f57c00" textLength="125.6" lengthAdjust="spacingAndGlyphs">62 Days</text>
<text x="1583.6" y="730.8" font-size="33" font-weight="bold" fill="#4caf50" textLength="125.1" lengthAdjust="spacingAndGlyphs">34 Days</text>
<rect x="2030.6" y="677.3" width="161.2" height="43.1" fill="#fff"/><text x="2038.1" y="711.8" font-size="33" font-weight="bold" fill="#f57c00" textLength="146.2" lengthAdjust="spacingAndGlyphs">238 Days</text>
<text x="2555.9" y="466.0" font-size="33" font-weight="bold" fill="#4caf50" textLength="125.1" lengthAdjust="spacingAndGlyphs">38 Days</text>
<text x="2991.4" y="452.2" font-size="33" font-weight="bold" fill="#f57c00" textLength="144.0" lengthAdjust="spacingAndGlyphs">195 Days</text>
<text x="149.0" y="1802.5" font-size="33" font-weight="bold" fill="#12998a" textLength="100.8" lengthAdjust="spacingAndGlyphs">4 days</text>
<text x="367.6" y="1714.0" font-size="33" font-weight="bold" fill="#12998a" textLength="104.0" lengthAdjust="spacingAndGlyphs">4 Days</text>
<text x="472.5" y="1498.5" font-size="33" font-weight="bold" fill="#12998a" textLength="81.2" lengthAdjust="spacingAndGlyphs">1 day</text>
<text x="1140.3" y="1495.0" font-size="33" font-weight="bold" fill="#12998a" textLength="103.6" lengthAdjust="spacingAndGlyphs">3 Days</text>
<rect x="1298.3" y="1260.5" width="118.6" height="43.1" fill="#fff"/><text x="1305.8" y="1295.0" font-size="33" font-weight="bold" fill="#12998a" textLength="103.6" lengthAdjust="spacingAndGlyphs">5 Days</text>
<rect x="1534.0" y="1187.7" width="118.5" height="43.1" fill="#fff"/><text x="1541.5" y="1222.2" font-size="33" font-weight="bold" fill="#12998a" textLength="103.5" lengthAdjust="spacingAndGlyphs">5 Days</text>
<rect x="1607.9" y="1063.0" width="119.1" height="43.1" fill="#fff"/><text x="1615.4" y="1097.5" font-size="33" font-weight="bold" fill="#12998a" textLength="104.1" lengthAdjust="spacingAndGlyphs">4 Days</text>
<rect x="2495.8" y="878.5" width="118.2" height="43.1" fill="#fff"/><text x="2503.3" y="913.0" font-size="33" font-weight="bold" fill="#12998a" textLength="103.2" lengthAdjust="spacingAndGlyphs">3 Days</text>
<rect x="2601.3" y="688.6" width="118.6" height="43.1" fill="#fff"/><text x="2608.8" y="723.1" font-size="33" font-weight="bold" fill="#12998a" textLength="103.6" lengthAdjust="spacingAndGlyphs">3 Days</text>
<text x="3077.4" y="795.3" font-size="33" font-weight="bold" fill="#12998a" textLength="103.6" lengthAdjust="spacingAndGlyphs">2 Days</text>
<rect x="3165.3" y="688.6" width="118.2" height="43.1" fill="#fff"/><text x="3172.8" y="723.1" font-size="33" font-weight="bold" fill="#12998a" textLength="103.2" lengthAdjust="spacingAndGlyphs">2 Days</text>
<text x="3508.6" y="137" font-size="40" font-weight="bold" fill="#4caf50">?</text>
<text x="707.0" y="976.3" font-size="65" font-weight="bold" fill="#000" textLength="166.6" lengthAdjust="spacingAndGlyphs">2023</text>
<rect x="1892.8" y="424.7" width="197.7" height="87.6" fill="#fff"/><text x="1907.8" y="493.7" font-size="65" font-weight="bold" fill="#000" textLength="167.7" lengthAdjust="spacingAndGlyphs">2024</text>
<text x="2943.0" y="277.6" font-size="64" font-weight="bold" fill="#000" textLength="169.3" lengthAdjust="spacingAndGlyphs">2025</text>
</g>
<rect x="142.5" y="97" width="246.5" height="246" fill="#000"/>
<path d="M290.98 204.80A37.8 37.8 0 1 0 290.98 235.80H314.48A37.8 37.8 0 1 1 314.48 204.80Z" fill="none" stroke="#fff" stroke-width="6.8" stroke-linejoin="round"/>
<text x="464" y="245" font-family="Liberation Sans, sans-serif" font-size="67" font-weight="bold" fill="#000" textLength="969" lengthAdjust="spacingAndGlyphs">Cycle 4 Ranges and Expansions</text>
<text x="17" y="33.2" font-family="Liberation Sans, sans-serif" font-size="20.5" fill="#131722" textLength="637" lengthAdjust="spacingAndGlyphs">CryptoCon_ created with TradingView.com, Jun 30, 2025 17:00 UTC</text>
<rect x="2559" y="1068.8" width="959.5" height="380" fill="#fff" stroke="#000" stroke-width="4.4"/>
<g font-family="Liberation Sans, sans-serif" font-weight="bold">
<text x="2585.2" y="1138.3" font-size="41" fill="#f57c00" textLength="346.6" lengthAdjust="spacingAndGlyphs">Total Range Time =</text>
<text x="2990.6" y="1140.0" font-size="41" fill="#000" textLength="472.9" lengthAdjust="spacingAndGlyphs">2 Years (1 year 363 days)</text>
<text x="2585.2" y="1232.3" font-size="41" fill="#4caf50" textLength="420.1" lengthAdjust="spacingAndGlyphs">Total Expansion Time =</text>
<text x="3061.1" y="1234.6" font-size="41" fill="#000" textLength="235.0" lengthAdjust="spacingAndGlyphs">5.76 Months</text>
<text x="2585.2" y="1336.2" font-size="41" fill="#12998a" textLength="528.8" lengthAdjust="spacingAndGlyphs">Total Expansion Burst Time =</text>
<text x="3156.2" y="1348.0" font-size="41" fill="#000" textLength="150.5" lengthAdjust="spacingAndGlyphs">36 Days</text>
<text x="2586.4" y="1382.0" font-size="24.5" fill="#000" textLength="495.8" lengthAdjust="spacingAndGlyphs">(only candles with new local highs counted)</text>
</g>
<rect x="1137.5" y="1965.5" width="739" height="56.6" fill="#fff" stroke="#000" stroke-width="3.2"/>
<text x="1147.2" y="2007.8" font-family="Liberation Sans, sans-serif" font-size="38.5" font-weight="bold" fill="#f57c00" textLength="716.8" lengthAdjust="spacingAndGlyphs">Price With Expansions Bursts Excluded</text>
<g transform="translate(3489.85,726.05) scale(3.8359)"><path fill="#f7931a" d="m63.033,39.744c-4.274,17.143-21.637,27.576-38.782,23.301-17.138-4.274-27.571-21.638-23.295-38.78,4.272-17.145,21.635-27.579,38.775-23.305,17.144,4.274,27.576,21.64,23.302,38.784z"/><path fill="#fff" d="m46.103,27.444c0.637-4.258-2.605-6.547-7.038-8.074l1.438-5.768-3.511-0.875-1.4,5.616c-0.923-0.23-1.871-0.447-2.813-0.662l1.41-5.653-3.509-0.875-1.439,5.766c-0.764-0.174-1.514-0.346-2.242-0.527l0.004-0.018-4.842-1.209-0.934,3.75s2.605,0.597,2.55,0.634c1.422,0.355,1.679,1.296,1.636,2.042l-1.638,6.571c0.098,0.025,0.225,0.061,0.365,0.117-0.117-0.029-0.242-0.061-0.371-0.092l-2.296,9.205c-0.174,0.432-0.615,1.08-1.609,0.834,0.035,0.051-2.552-0.637-2.552-0.637l-1.743,4.019,4.569,1.139c0.85,0.213,1.683,0.436,2.503,0.646l-1.453,5.834,3.507,0.875,1.439-5.772c0.958,0.26,1.888,0.5,2.798,0.726l-1.434,5.745,3.511,0.875,1.453-5.823c5.987,1.133,10.489,0.676,12.384-4.739,1.527-4.36-0.076-6.875-3.226-8.515,2.294-0.529,4.022-2.038,4.483-5.155zm-8.022,11.249c-1.085,4.36-8.426,2.003-10.806,1.412l1.928-7.729c2.38,0.594,10.012,1.77,8.878,6.317zm1.086-11.312c-0.99,3.966-7.1,1.951-9.082,1.457l1.748-7.01c1.982,0.494,8.365,1.416,7.334,5.553z"/></g>
<path d="M3938 44V2160" stroke="#000" stroke-width="2" fill="none"/>
<path d="M16 2115.5H4079" stroke="#000" stroke-width="2" fill="none"/>
<rect x="3943.8" y="51" width="129" height="43" rx="7" fill="#fff" stroke="#ebebeb" stroke-width="1.5"/>
<g font-family="Liberation Sans, sans-serif" font-size="20.3" fill="#131722">
<text x="3958.7" y="79.3" textLength="41" lengthAdjust="spacingAndGlyphs">USD</text>
<text x="3954" y="121.2" textLength="108.9" lengthAdjust="spacingAndGlyphs">195,000.00</text>
<text x="3954" y="173.2" textLength="108.9" lengthAdjust="spacingAndGlyphs">180,000.00</text>
<text x="3954" y="229.8" textLength="108.9" lengthAdjust="spacingAndGlyphs">165,000.00</text>
<text x="3954" y="296.1" textLength="108.9" lengthAdjust="spacingAndGlyphs">149,000.00</text>
<text x="3954" y="350.7" textLength="108.9" lengthAdjust="spacingAndGlyphs">137,000.00</text>
<text x="3954" y="410.3" textLength="108.9" lengthAdjust="spacingAndGlyphs">125,000.00</text>
<text x="3954" y="475.9" textLength="108.9" lengthAdjust="spacingAndGlyphs">113,000.00</text>
<text x="3954" y="536.1" textLength="108.9" lengthAdjust="spacingAndGlyphs">103,000.00</text>
<text x="3954" y="602.5" textLength="96.8" lengthAdjust="spacingAndGlyphs">93,000.00</text>
<text x="3954" y="657.2" textLength="96.8" lengthAdjust="spacingAndGlyphs">85,500.00</text>
<text x="3954" y="721.1" textLength="96.8" lengthAdjust="spacingAndGlyphs">77,500.00</text>
<text x="3954" y="773.4" textLength="96.8" lengthAdjust="spacingAndGlyphs">71,500.00</text>
<text x="3954" y="830.4" textLength="96.8" lengthAdjust="spacingAndGlyphs">65,500.00</text>
<text x="3954" y="892.9" textLength="96.8" lengthAdjust="spacingAndGlyphs">59,500.00</text>
<text x="3954" y="962.0" textLength="96.8" lengthAdjust="spacingAndGlyphs">53,500.00</text>
<text x="3954" y="1012.5" textLength="96.8" lengthAdjust="spacingAndGlyphs">49,500.00</text>
<text x="3954" y="1067.3" textLength="96.8" lengthAdjust="spacingAndGlyphs">45,500.00</text>
<text x="3954" y="1127.1" textLength="96.8" lengthAdjust="spacingAndGlyphs">41,500.00</text>
<text x="3954" y="1193.0" textLength="96.8" lengthAdjust="spacingAndGlyphs">37,500.00</text>
<text x="3954" y="1247.2" textLength="96.8" lengthAdjust="spacingAndGlyphs">34,500.00</text>
<text x="3954" y="1306.3" textLength="96.8" lengthAdjust="spacingAndGlyphs">31,500.00</text>
<text x="3954" y="1371.4" textLength="96.8" lengthAdjust="spacingAndGlyphs">28,500.00</text>
<text x="3954" y="1431.1" textLength="96.8" lengthAdjust="spacingAndGlyphs">26,000.00</text>
<text x="3954" y="1483.1" textLength="96.8" lengthAdjust="spacingAndGlyphs">24,000.00</text>
<text x="3954" y="1539.7" textLength="96.8" lengthAdjust="spacingAndGlyphs">22,000.00</text>
<text x="3954" y="1601.7" textLength="96.8" lengthAdjust="spacingAndGlyphs">20,000.00</text>
<text x="3954" y="1655.9" textLength="96.8" lengthAdjust="spacingAndGlyphs">18,400.00</text>
<text x="3954" y="1711.1" textLength="96.8" lengthAdjust="spacingAndGlyphs">16,900.00</text>
<text x="3954" y="1767.4" textLength="96.8" lengthAdjust="spacingAndGlyphs">15,500.00</text>
<text x="3954" y="1819.7" textLength="96.8" lengthAdjust="spacingAndGlyphs">14,300.00</text>
<text x="3954" y="1876.7" textLength="96.8" lengthAdjust="spacingAndGlyphs">13,100.00</text>
<text x="3954" y="1928.3" textLength="96.8" lengthAdjust="spacingAndGlyphs">12,100.00</text>
<text x="3954" y="1978.6" textLength="96.8" lengthAdjust="spacingAndGlyphs">11,200.00</text>
<text x="3954" y="2033.1" textLength="96.8" lengthAdjust="spacingAndGlyphs">10,300.00</text>
<text x="3954" y="2082.9" textLength="84.7" lengthAdjust="spacingAndGlyphs">9,540.00</text>
</g>
<g font-family="Liberation Sans, sans-serif" font-size="20.3" fill="#131722" text-anchor="middle">
<text x="47.3" y="2146" letter-spacing="0.5">Dec</text>
<text x="156.5" y="2146" font-weight="bold" letter-spacing="1.2">2023</text>
<text x="265.7" y="2146" letter-spacing="0.5">Feb</text>
<text x="364.4" y="2146" letter-spacing="0.5">Mar</text>
<text x="473.6" y="2146" letter-spacing="0.5">Apr</text>
<text x="579.3" y="2146" letter-spacing="0.5">May</text>
<text x="688.5" y="2146" letter-spacing="0.5">Jun</text>
<text x="794.2" y="2146" letter-spacing="0.5">Jul</text>
<text x="903.4" y="2146" letter-spacing="0.5">Aug</text>
<text x="1012.7" y="2146" letter-spacing="0.5">Sep</text>
<text x="1118.4" y="2146" letter-spacing="0.5">Oct</text>
<text x="1227.6" y="2146" letter-spacing="0.5">Nov</text>
<text x="1333.3" y="2146" letter-spacing="0.5">Dec</text>
<text x="1442.5" y="2146" font-weight="bold" letter-spacing="1.2">2024</text>
<text x="1551.7" y="2146" letter-spacing="0.5">Feb</text>
<text x="1653.9" y="2146" letter-spacing="0.5">Mar</text>
<text x="1763.1" y="2146" letter-spacing="0.5">Apr</text>
<text x="1868.8" y="2146" letter-spacing="0.5">May</text>
<text x="1978.0" y="2146" letter-spacing="0.5">Jun</text>
<text x="2083.7" y="2146" letter-spacing="0.5">Jul</text>
<text x="2193.0" y="2146" letter-spacing="0.5">Aug</text>
<text x="2302.2" y="2146" letter-spacing="0.5">Sep</text>
<text x="2407.9" y="2146" letter-spacing="0.5">Oct</text>
<text x="2517.1" y="2146" letter-spacing="0.5">Nov</text>
<text x="2622.8" y="2146" letter-spacing="0.5">Dec</text>
<text x="2732.0" y="2146" font-weight="bold" letter-spacing="1.2">2025</text>
<text x="2841.3" y="2146" letter-spacing="0.5">Feb</text>
<text x="2939.9" y="2146" letter-spacing="0.5">Mar</text>
<text x="3049.1" y="2146" letter-spacing="0.5">Apr</text>
<text x="3154.8" y="2146" letter-spacing="0.5">May</text>
<text x="3264.1" y="2146" letter-spacing="0.5">Jun</text>
<text x="3369.7" y="2146" letter-spacing="0.5">Jul</text>
<text x="3479.0" y="2146" letter-spacing="0.5">Aug</text>
<text x="3588.2" y="2146" letter-spacing="0.5">Sep</text>
<text x="3693.9" y="2146" letter-spacing="0.5">Oct</text>
<text x="3803.1" y="2146" letter-spacing="0.5">Nov</text>
<text x="3908.8" y="2146" letter-spacing="0.5">Dec</text>
</g>
<g fill="#131722"><path d="M17 2182h13.5v15h-6.5v-8h-7z"/><circle cx="35" cy="2185.3" r="3.4"/><path d="M42 2182h7.5l-6.3 15h-7.5z"/></g>
<text x="56.5" y="2198" font-family="Liberation Sans, sans-serif" font-size="21.5" fill="#131722" textLength="121.5" lengthAdjust="spacingAndGlyphs">TradingView</text>
</svg>
</body></html>
